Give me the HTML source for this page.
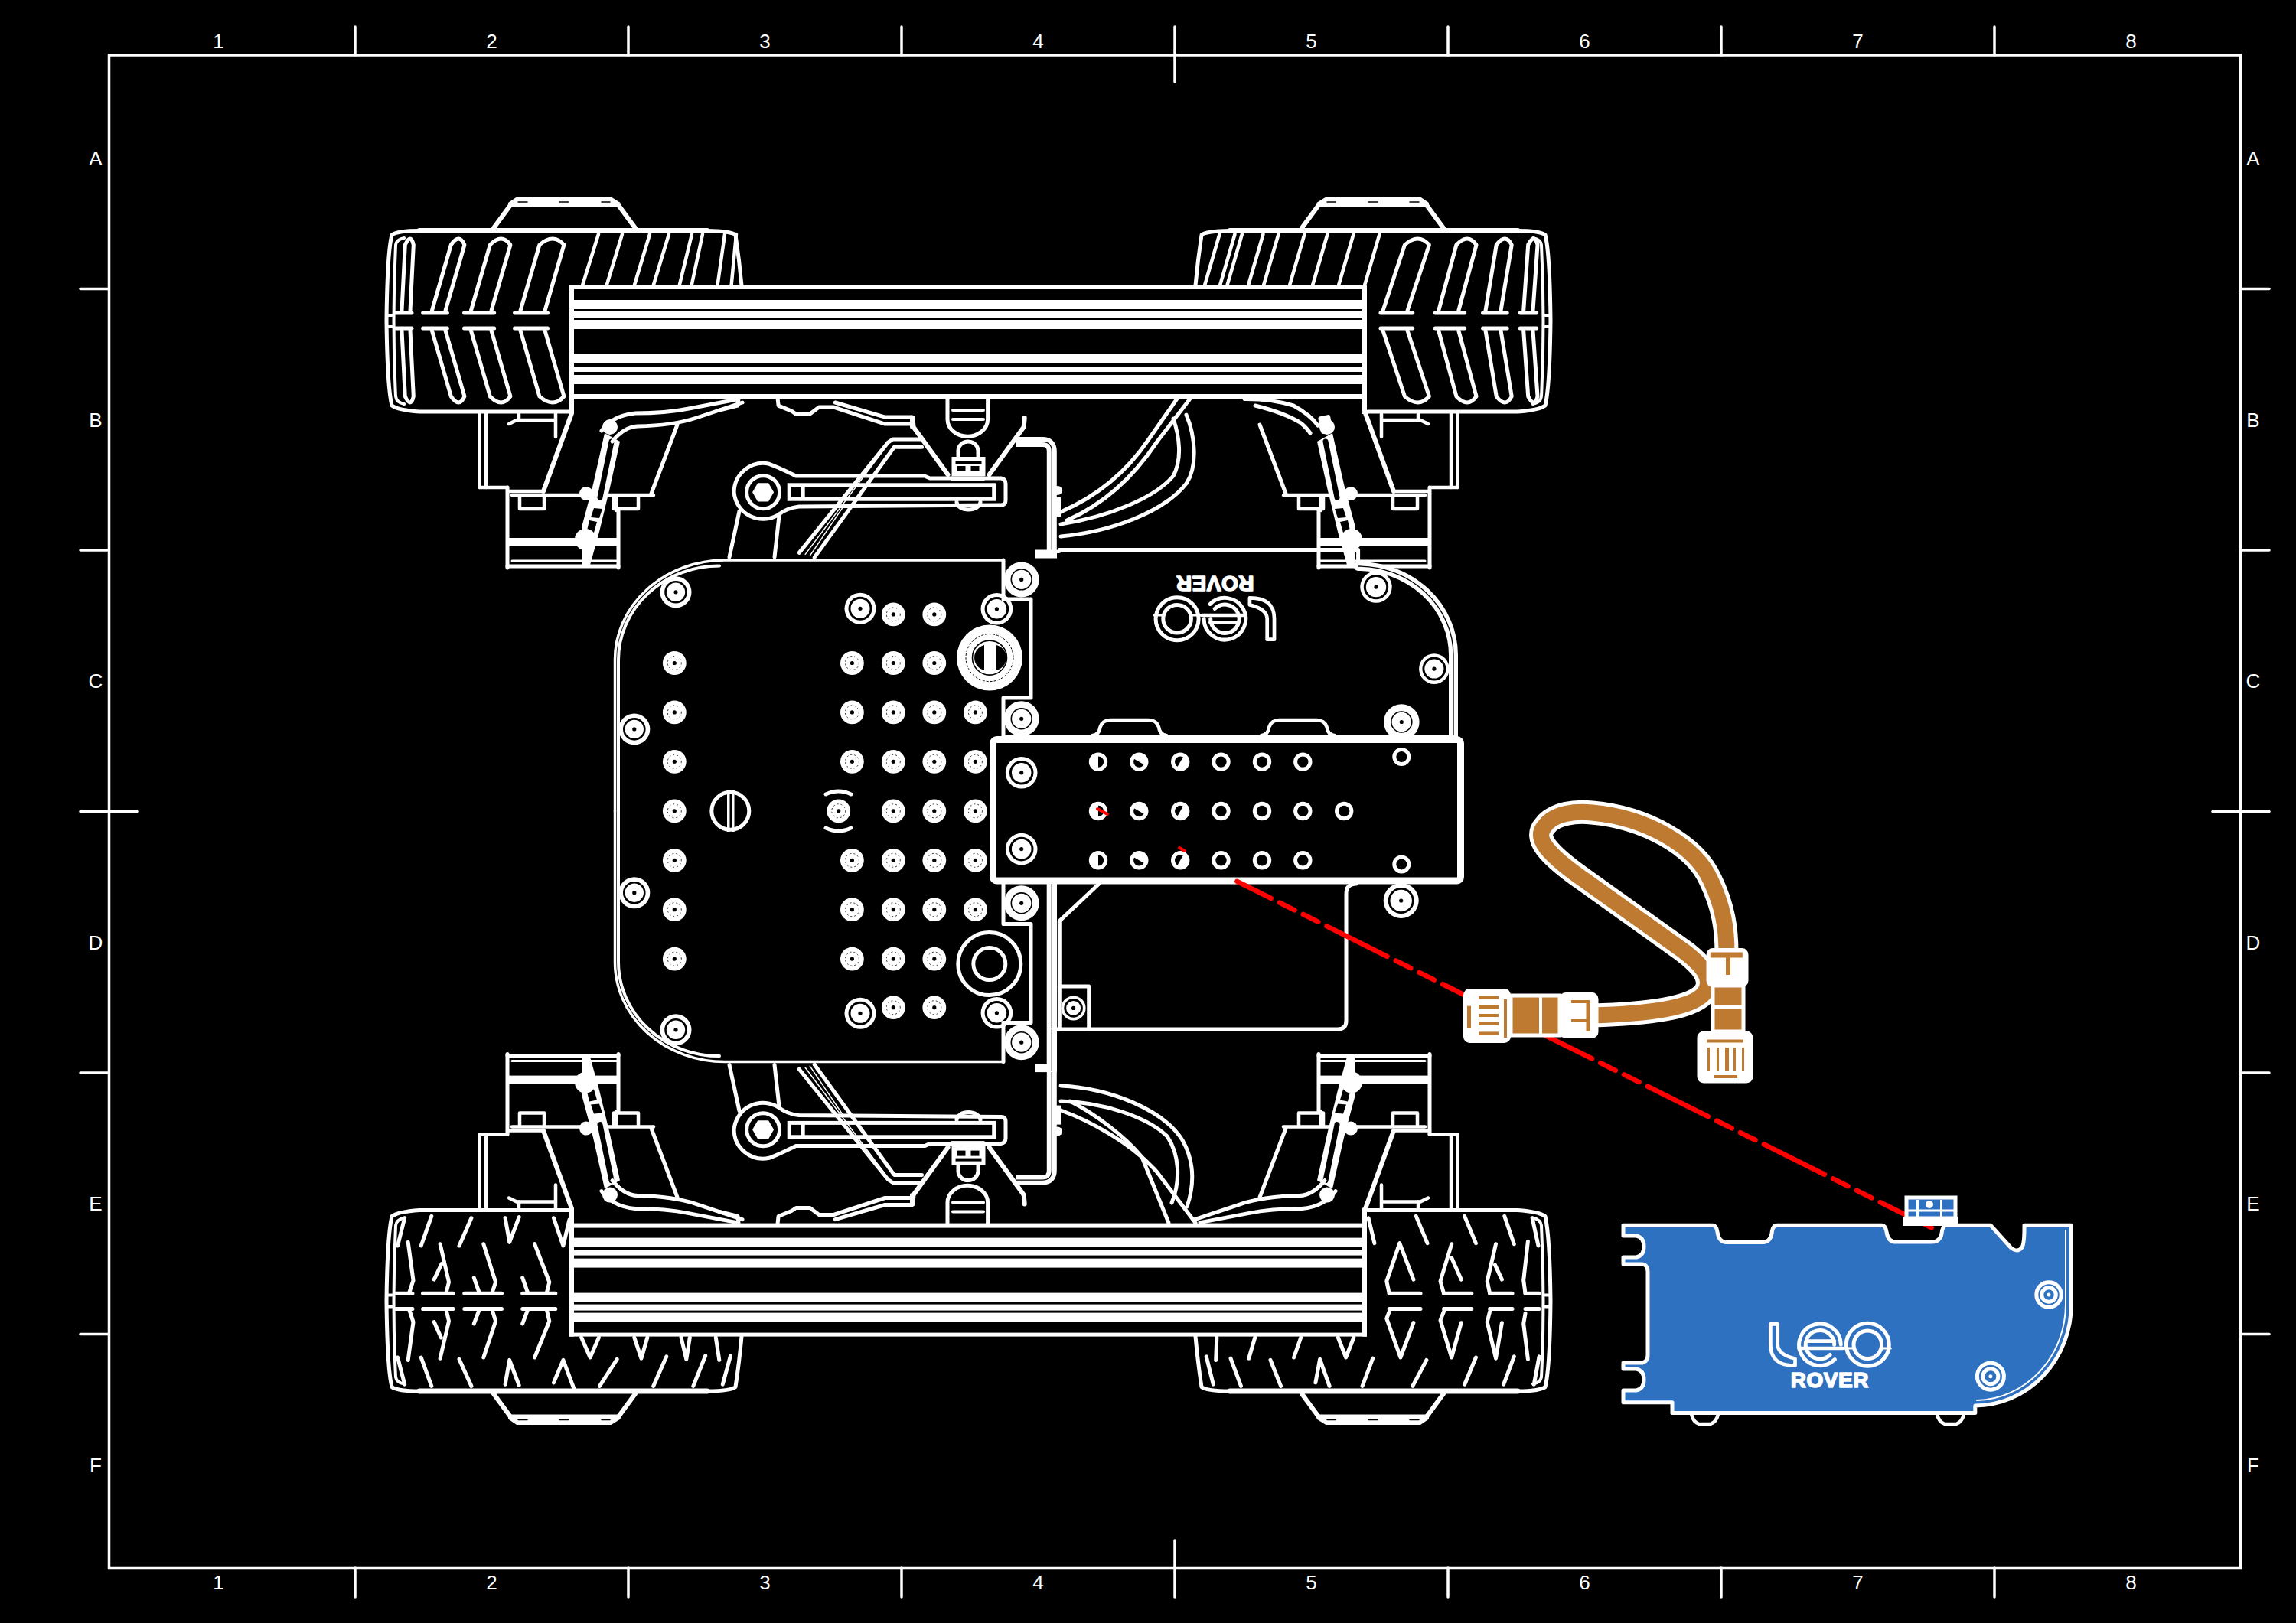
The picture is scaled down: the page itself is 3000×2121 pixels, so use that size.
<!DOCTYPE html>
<html><head><meta charset="utf-8"><style>
html,body{margin:0;padding:0;background:#000;width:3000px;height:2121px;overflow:hidden}
svg{display:block}
</style></head><body>
<svg width="3000" height="2121" viewBox="0 0 3000 2121">
<rect width="3000" height="2121" fill="#000"/>
<rect x="142.5" y="72" width="2785" height="1977.5" stroke="#fff" stroke-width="3.5" fill="none"/>
<line x1="464" y1="35" x2="464" y2="72" stroke="#fff" stroke-width="3.5" fill="none" stroke-linecap="round"/>
<line x1="464" y1="2049" x2="464" y2="2087" stroke="#fff" stroke-width="3.5" fill="none" stroke-linecap="round"/>
<line x1="821" y1="35" x2="821" y2="72" stroke="#fff" stroke-width="3.5" fill="none" stroke-linecap="round"/>
<line x1="821" y1="2049" x2="821" y2="2087" stroke="#fff" stroke-width="3.5" fill="none" stroke-linecap="round"/>
<line x1="1178" y1="35" x2="1178" y2="72" stroke="#fff" stroke-width="3.5" fill="none" stroke-linecap="round"/>
<line x1="1178" y1="2049" x2="1178" y2="2087" stroke="#fff" stroke-width="3.5" fill="none" stroke-linecap="round"/>
<line x1="1535" y1="35" x2="1535" y2="107" stroke="#fff" stroke-width="3.5" fill="none" stroke-linecap="round"/>
<line x1="1535" y1="2013" x2="1535" y2="2087" stroke="#fff" stroke-width="3.5" fill="none" stroke-linecap="round"/>
<line x1="1892" y1="35" x2="1892" y2="72" stroke="#fff" stroke-width="3.5" fill="none" stroke-linecap="round"/>
<line x1="1892" y1="2049" x2="1892" y2="2087" stroke="#fff" stroke-width="3.5" fill="none" stroke-linecap="round"/>
<line x1="2249" y1="35" x2="2249" y2="72" stroke="#fff" stroke-width="3.5" fill="none" stroke-linecap="round"/>
<line x1="2249" y1="2049" x2="2249" y2="2087" stroke="#fff" stroke-width="3.5" fill="none" stroke-linecap="round"/>
<line x1="2606" y1="35" x2="2606" y2="72" stroke="#fff" stroke-width="3.5" fill="none" stroke-linecap="round"/>
<line x1="2606" y1="2049" x2="2606" y2="2087" stroke="#fff" stroke-width="3.5" fill="none" stroke-linecap="round"/>
<line x1="105" y1="377.6" x2="142" y2="377.6" stroke="#fff" stroke-width="3.5" fill="none" stroke-linecap="round"/>
<line x1="2927" y1="377.6" x2="2965" y2="377.6" stroke="#fff" stroke-width="3.5" fill="none" stroke-linecap="round"/>
<line x1="105" y1="719.1" x2="142" y2="719.1" stroke="#fff" stroke-width="3.5" fill="none" stroke-linecap="round"/>
<line x1="2927" y1="719.1" x2="2965" y2="719.1" stroke="#fff" stroke-width="3.5" fill="none" stroke-linecap="round"/>
<line x1="105" y1="1060.6" x2="179" y2="1060.6" stroke="#fff" stroke-width="3.5" fill="none" stroke-linecap="round"/>
<line x1="2891" y1="1060.6" x2="2965" y2="1060.6" stroke="#fff" stroke-width="3.5" fill="none" stroke-linecap="round"/>
<line x1="105" y1="1402.1" x2="142" y2="1402.1" stroke="#fff" stroke-width="3.5" fill="none" stroke-linecap="round"/>
<line x1="2927" y1="1402.1" x2="2965" y2="1402.1" stroke="#fff" stroke-width="3.5" fill="none" stroke-linecap="round"/>
<line x1="105" y1="1743.6" x2="142" y2="1743.6" stroke="#fff" stroke-width="3.5" fill="none" stroke-linecap="round"/>
<line x1="2927" y1="1743.6" x2="2965" y2="1743.6" stroke="#fff" stroke-width="3.5" fill="none" stroke-linecap="round"/>
<text x="285.5" y="63" fill="#fff" font-family="Liberation Sans, sans-serif" font-size="26" text-anchor="middle">1</text>
<text x="285.5" y="2077" fill="#fff" font-family="Liberation Sans, sans-serif" font-size="26" text-anchor="middle">1</text>
<text x="642.5" y="63" fill="#fff" font-family="Liberation Sans, sans-serif" font-size="26" text-anchor="middle">2</text>
<text x="642.5" y="2077" fill="#fff" font-family="Liberation Sans, sans-serif" font-size="26" text-anchor="middle">2</text>
<text x="999.5" y="63" fill="#fff" font-family="Liberation Sans, sans-serif" font-size="26" text-anchor="middle">3</text>
<text x="999.5" y="2077" fill="#fff" font-family="Liberation Sans, sans-serif" font-size="26" text-anchor="middle">3</text>
<text x="1356.5" y="63" fill="#fff" font-family="Liberation Sans, sans-serif" font-size="26" text-anchor="middle">4</text>
<text x="1356.5" y="2077" fill="#fff" font-family="Liberation Sans, sans-serif" font-size="26" text-anchor="middle">4</text>
<text x="1713.5" y="63" fill="#fff" font-family="Liberation Sans, sans-serif" font-size="26" text-anchor="middle">5</text>
<text x="1713.5" y="2077" fill="#fff" font-family="Liberation Sans, sans-serif" font-size="26" text-anchor="middle">5</text>
<text x="2070.5" y="63" fill="#fff" font-family="Liberation Sans, sans-serif" font-size="26" text-anchor="middle">6</text>
<text x="2070.5" y="2077" fill="#fff" font-family="Liberation Sans, sans-serif" font-size="26" text-anchor="middle">6</text>
<text x="2427.5" y="63" fill="#fff" font-family="Liberation Sans, sans-serif" font-size="26" text-anchor="middle">7</text>
<text x="2427.5" y="2077" fill="#fff" font-family="Liberation Sans, sans-serif" font-size="26" text-anchor="middle">7</text>
<text x="2784.5" y="63" fill="#fff" font-family="Liberation Sans, sans-serif" font-size="26" text-anchor="middle">8</text>
<text x="2784.5" y="2077" fill="#fff" font-family="Liberation Sans, sans-serif" font-size="26" text-anchor="middle">8</text>
<text x="125" y="216.20000000000002" fill="#fff" font-family="Liberation Sans, sans-serif" font-size="26" text-anchor="middle">A</text>
<text x="2944" y="216.20000000000002" fill="#fff" font-family="Liberation Sans, sans-serif" font-size="26" text-anchor="middle">A</text>
<text x="125" y="557.6999999999999" fill="#fff" font-family="Liberation Sans, sans-serif" font-size="26" text-anchor="middle">B</text>
<text x="2944" y="557.6999999999999" fill="#fff" font-family="Liberation Sans, sans-serif" font-size="26" text-anchor="middle">B</text>
<text x="125" y="899.1999999999999" fill="#fff" font-family="Liberation Sans, sans-serif" font-size="26" text-anchor="middle">C</text>
<text x="2944" y="899.1999999999999" fill="#fff" font-family="Liberation Sans, sans-serif" font-size="26" text-anchor="middle">C</text>
<text x="125" y="1240.7" fill="#fff" font-family="Liberation Sans, sans-serif" font-size="26" text-anchor="middle">D</text>
<text x="2944" y="1240.7" fill="#fff" font-family="Liberation Sans, sans-serif" font-size="26" text-anchor="middle">D</text>
<text x="125" y="1582.2" fill="#fff" font-family="Liberation Sans, sans-serif" font-size="26" text-anchor="middle">E</text>
<text x="2944" y="1582.2" fill="#fff" font-family="Liberation Sans, sans-serif" font-size="26" text-anchor="middle">E</text>
<text x="125" y="1923.7" fill="#fff" font-family="Liberation Sans, sans-serif" font-size="26" text-anchor="middle">F</text>
<text x="2944" y="1923.7" fill="#fff" font-family="Liberation Sans, sans-serif" font-size="26" text-anchor="middle">F</text>
<polygon points="675,257.5 798.6,257.5 810.6,265 810.6,271 664,271 664,265" fill="#fff"/><line x1="677.0" y1="264.0" x2="689.0" y2="264.0" stroke="#000" stroke-width="1.5" stroke-linecap="round"/><line x1="731.0" y1="264.0" x2="743.0" y2="264.0" stroke="#000" stroke-width="1.5" stroke-linecap="round"/><line x1="786.0" y1="264.0" x2="797.0" y2="264.0" stroke="#000" stroke-width="1.5" stroke-linecap="round"/><line x1="667.0" y1="268.0" x2="645.0" y2="298.0" stroke="#fff" stroke-width="6" stroke-linecap="round"/><line x1="808.0" y1="268.0" x2="830.0" y2="298.0" stroke="#fff" stroke-width="6" stroke-linecap="round"/><path d="M744,538 L548,538 Q520,536 512,530 Q506,505 505,419 Q506,330 512,307 Q520,301.5 548,301.5 L924,301.5 Q955,302 961,307 Q966,340 969,373" stroke="#fff" stroke-width="5" fill="none" stroke-linejoin="round" stroke-linecap="round" /><line x1="548.0" y1="301.5" x2="924.0" y2="301.5" stroke="#fff" stroke-width="7" stroke-linecap="round"/><path d="M528,311 Q518,313 517,320 Q512,419 517,518 Q518,526 528,528" stroke="#fff" stroke-width="4" fill="none" stroke-linejoin="round" stroke-linecap="round" /><line x1="505.0" y1="412.0" x2="512.0" y2="412.0" stroke="#fff" stroke-width="4" stroke-linecap="round"/><line x1="505.0" y1="427.0" x2="512.0" y2="427.0" stroke="#fff" stroke-width="4" stroke-linecap="round"/><line x1="626.5" y1="540.0" x2="626.5" y2="637.0" stroke="#fff" stroke-width="4.5" stroke-linecap="round"/><line x1="635.0" y1="540.0" x2="635.0" y2="637.0" stroke="#fff" stroke-width="4.5" stroke-linecap="round"/><line x1="626.5" y1="637.0" x2="663.0" y2="637.0" stroke="#fff" stroke-width="4.5" stroke-linecap="round"/><line x1="663.0" y1="637.0" x2="663.0" y2="742.0" stroke="#fff" stroke-width="5" stroke-linecap="round"/><line x1="808.0" y1="667.0" x2="808.0" y2="742.0" stroke="#fff" stroke-width="5" stroke-linecap="round"/><line x1="663.0" y1="740.0" x2="808.0" y2="740.0" stroke="#fff" stroke-width="5" stroke-linecap="round"/><rect x="663.0" y="703.0" width="145.0" height="11.0" fill="#fff"/><line x1="669.0" y1="733.0" x2="808.0" y2="733.0" stroke="#fff" stroke-width="3" stroke-linecap="round"/><line x1="663.0" y1="642.0" x2="710.0" y2="642.0" stroke="#fff" stroke-width="4.5" stroke-linecap="round"/><line x1="669.0" y1="647.0" x2="854.0" y2="647.0" stroke="#fff" stroke-width="4.5" stroke-linecap="round"/><path d="M679.0,649.0 L679.0,665.0 L711.0,665.0 L711.0,649.0" stroke="#fff" stroke-width="4.5" fill="none" stroke-linejoin="round" stroke-linecap="round" /><path d="M802.0,649.0 L802.0,665.0 L834.0,665.0 L834.0,649.0" stroke="#fff" stroke-width="4.5" fill="none" stroke-linejoin="round" stroke-linecap="round" /><line x1="805.0" y1="649.0" x2="805.0" y2="667.0" stroke="#fff" stroke-width="4.5" stroke-linecap="round"/><line x1="747.0" y1="540.0" x2="710.0" y2="642.0" stroke="#fff" stroke-width="6" stroke-linecap="round"/><line x1="885.0" y1="555.0" x2="851.0" y2="645.0" stroke="#fff" stroke-width="5" stroke-linecap="round"/><path d="M665.0,554.0 L675.0,549.0 L725.0,549.0" stroke="#fff" stroke-width="4.5" fill="none" stroke-linejoin="round" stroke-linecap="round" /><line x1="678.0" y1="541.0" x2="678.0" y2="549.0" stroke="#fff" stroke-width="4.5" stroke-linecap="round"/><line x1="726.0" y1="541.0" x2="726.0" y2="571.0" stroke="#fff" stroke-width="4.5" stroke-linecap="round"/><polygon points="790,566 810,577 797,637 783,695 770,742 760,742 760,689 775,633" fill="#fff"/><line x1="799.0" y1="577.0" x2="784.0" y2="650.0" stroke="#000" stroke-width="7" stroke-linecap="round"/><polygon points="776,664 787,665 783,677 772,676" fill="#000"/><polygon points="770,680 780,682 774,703 765,702" fill="#000"/><circle cx="766.0" cy="645.0" r="9.0" fill="#fff"/><circle cx="765.0" cy="705.0" r="14.0" fill="#fff"/><circle cx="797.0" cy="558.0" r="10.0" fill="#fff"/>
<g transform="translate(2531,0) scale(-1,1)"><polygon points="675,257.5 798.6,257.5 810.6,265 810.6,271 664,271 664,265" fill="#fff"/><line x1="677.0" y1="264.0" x2="689.0" y2="264.0" stroke="#000" stroke-width="1.5" stroke-linecap="round"/><line x1="731.0" y1="264.0" x2="743.0" y2="264.0" stroke="#000" stroke-width="1.5" stroke-linecap="round"/><line x1="786.0" y1="264.0" x2="797.0" y2="264.0" stroke="#000" stroke-width="1.5" stroke-linecap="round"/><line x1="667.0" y1="268.0" x2="645.0" y2="298.0" stroke="#fff" stroke-width="6" stroke-linecap="round"/><line x1="808.0" y1="268.0" x2="830.0" y2="298.0" stroke="#fff" stroke-width="6" stroke-linecap="round"/><path d="M744,538 L548,538 Q520,536 512,530 Q506,505 505,419 Q506,330 512,307 Q520,301.5 548,301.5 L924,301.5 Q955,302 961,307 Q966,340 969,373" stroke="#fff" stroke-width="5" fill="none" stroke-linejoin="round" stroke-linecap="round" /><line x1="548.0" y1="301.5" x2="924.0" y2="301.5" stroke="#fff" stroke-width="7" stroke-linecap="round"/><path d="M528,311 Q518,313 517,320 Q512,419 517,518 Q518,526 528,528" stroke="#fff" stroke-width="4" fill="none" stroke-linejoin="round" stroke-linecap="round" /><line x1="505.0" y1="412.0" x2="512.0" y2="412.0" stroke="#fff" stroke-width="4" stroke-linecap="round"/><line x1="505.0" y1="427.0" x2="512.0" y2="427.0" stroke="#fff" stroke-width="4" stroke-linecap="round"/><line x1="626.5" y1="540.0" x2="626.5" y2="637.0" stroke="#fff" stroke-width="4.5" stroke-linecap="round"/><line x1="635.0" y1="540.0" x2="635.0" y2="637.0" stroke="#fff" stroke-width="4.5" stroke-linecap="round"/><line x1="626.5" y1="637.0" x2="663.0" y2="637.0" stroke="#fff" stroke-width="4.5" stroke-linecap="round"/><line x1="663.0" y1="637.0" x2="663.0" y2="742.0" stroke="#fff" stroke-width="5" stroke-linecap="round"/><line x1="808.0" y1="667.0" x2="808.0" y2="742.0" stroke="#fff" stroke-width="5" stroke-linecap="round"/><line x1="663.0" y1="740.0" x2="808.0" y2="740.0" stroke="#fff" stroke-width="5" stroke-linecap="round"/><rect x="663.0" y="703.0" width="145.0" height="11.0" fill="#fff"/><line x1="669.0" y1="733.0" x2="808.0" y2="733.0" stroke="#fff" stroke-width="3" stroke-linecap="round"/><line x1="663.0" y1="642.0" x2="710.0" y2="642.0" stroke="#fff" stroke-width="4.5" stroke-linecap="round"/><line x1="669.0" y1="647.0" x2="854.0" y2="647.0" stroke="#fff" stroke-width="4.5" stroke-linecap="round"/><path d="M679.0,649.0 L679.0,665.0 L711.0,665.0 L711.0,649.0" stroke="#fff" stroke-width="4.5" fill="none" stroke-linejoin="round" stroke-linecap="round" /><path d="M802.0,649.0 L802.0,665.0 L834.0,665.0 L834.0,649.0" stroke="#fff" stroke-width="4.5" fill="none" stroke-linejoin="round" stroke-linecap="round" /><line x1="805.0" y1="649.0" x2="805.0" y2="667.0" stroke="#fff" stroke-width="4.5" stroke-linecap="round"/><line x1="747.0" y1="540.0" x2="710.0" y2="642.0" stroke="#fff" stroke-width="6" stroke-linecap="round"/><line x1="885.0" y1="555.0" x2="851.0" y2="645.0" stroke="#fff" stroke-width="5" stroke-linecap="round"/><path d="M665.0,554.0 L675.0,549.0 L725.0,549.0" stroke="#fff" stroke-width="4.5" fill="none" stroke-linejoin="round" stroke-linecap="round" /><line x1="678.0" y1="541.0" x2="678.0" y2="549.0" stroke="#fff" stroke-width="4.5" stroke-linecap="round"/><line x1="726.0" y1="541.0" x2="726.0" y2="571.0" stroke="#fff" stroke-width="4.5" stroke-linecap="round"/><polygon points="790,566 810,577 797,637 783,695 770,742 760,742 760,689 775,633" fill="#fff"/><line x1="799.0" y1="577.0" x2="784.0" y2="650.0" stroke="#000" stroke-width="7" stroke-linecap="round"/><polygon points="776,664 787,665 783,677 772,676" fill="#000"/><polygon points="770,680 780,682 774,703 765,702" fill="#000"/><circle cx="766.0" cy="645.0" r="9.0" fill="#fff"/><circle cx="765.0" cy="705.0" r="14.0" fill="#fff"/><circle cx="797.0" cy="558.0" r="10.0" fill="#fff"/></g>
<g transform="translate(0,2119.6) scale(1,-1)"><polygon points="675,257.5 798.6,257.5 810.6,265 810.6,271 664,271 664,265" fill="#fff"/><line x1="677.0" y1="264.0" x2="689.0" y2="264.0" stroke="#000" stroke-width="1.5" stroke-linecap="round"/><line x1="731.0" y1="264.0" x2="743.0" y2="264.0" stroke="#000" stroke-width="1.5" stroke-linecap="round"/><line x1="786.0" y1="264.0" x2="797.0" y2="264.0" stroke="#000" stroke-width="1.5" stroke-linecap="round"/><line x1="667.0" y1="268.0" x2="645.0" y2="298.0" stroke="#fff" stroke-width="6" stroke-linecap="round"/><line x1="808.0" y1="268.0" x2="830.0" y2="298.0" stroke="#fff" stroke-width="6" stroke-linecap="round"/><path d="M744,538 L548,538 Q520,536 512,530 Q506,505 505,419 Q506,330 512,307 Q520,301.5 548,301.5 L924,301.5 Q955,302 961,307 Q966,340 969,373" stroke="#fff" stroke-width="5" fill="none" stroke-linejoin="round" stroke-linecap="round" /><line x1="548.0" y1="301.5" x2="924.0" y2="301.5" stroke="#fff" stroke-width="7" stroke-linecap="round"/><path d="M528,311 Q518,313 517,320 Q512,419 517,518 Q518,526 528,528" stroke="#fff" stroke-width="4" fill="none" stroke-linejoin="round" stroke-linecap="round" /><line x1="505.0" y1="412.0" x2="512.0" y2="412.0" stroke="#fff" stroke-width="4" stroke-linecap="round"/><line x1="505.0" y1="427.0" x2="512.0" y2="427.0" stroke="#fff" stroke-width="4" stroke-linecap="round"/><line x1="626.5" y1="540.0" x2="626.5" y2="637.0" stroke="#fff" stroke-width="4.5" stroke-linecap="round"/><line x1="635.0" y1="540.0" x2="635.0" y2="637.0" stroke="#fff" stroke-width="4.5" stroke-linecap="round"/><line x1="626.5" y1="637.0" x2="663.0" y2="637.0" stroke="#fff" stroke-width="4.5" stroke-linecap="round"/><line x1="663.0" y1="637.0" x2="663.0" y2="742.0" stroke="#fff" stroke-width="5" stroke-linecap="round"/><line x1="808.0" y1="667.0" x2="808.0" y2="742.0" stroke="#fff" stroke-width="5" stroke-linecap="round"/><line x1="663.0" y1="740.0" x2="808.0" y2="740.0" stroke="#fff" stroke-width="5" stroke-linecap="round"/><rect x="663.0" y="703.0" width="145.0" height="11.0" fill="#fff"/><line x1="669.0" y1="733.0" x2="808.0" y2="733.0" stroke="#fff" stroke-width="3" stroke-linecap="round"/><line x1="663.0" y1="642.0" x2="710.0" y2="642.0" stroke="#fff" stroke-width="4.5" stroke-linecap="round"/><line x1="669.0" y1="647.0" x2="854.0" y2="647.0" stroke="#fff" stroke-width="4.5" stroke-linecap="round"/><path d="M679.0,649.0 L679.0,665.0 L711.0,665.0 L711.0,649.0" stroke="#fff" stroke-width="4.5" fill="none" stroke-linejoin="round" stroke-linecap="round" /><path d="M802.0,649.0 L802.0,665.0 L834.0,665.0 L834.0,649.0" stroke="#fff" stroke-width="4.5" fill="none" stroke-linejoin="round" stroke-linecap="round" /><line x1="805.0" y1="649.0" x2="805.0" y2="667.0" stroke="#fff" stroke-width="4.5" stroke-linecap="round"/><line x1="747.0" y1="540.0" x2="710.0" y2="642.0" stroke="#fff" stroke-width="6" stroke-linecap="round"/><line x1="885.0" y1="555.0" x2="851.0" y2="645.0" stroke="#fff" stroke-width="5" stroke-linecap="round"/><path d="M665.0,554.0 L675.0,549.0 L725.0,549.0" stroke="#fff" stroke-width="4.5" fill="none" stroke-linejoin="round" stroke-linecap="round" /><line x1="678.0" y1="541.0" x2="678.0" y2="549.0" stroke="#fff" stroke-width="4.5" stroke-linecap="round"/><line x1="726.0" y1="541.0" x2="726.0" y2="571.0" stroke="#fff" stroke-width="4.5" stroke-linecap="round"/><polygon points="790,566 810,577 797,637 783,695 770,742 760,742 760,689 775,633" fill="#fff"/><line x1="799.0" y1="577.0" x2="784.0" y2="650.0" stroke="#000" stroke-width="7" stroke-linecap="round"/><polygon points="776,664 787,665 783,677 772,676" fill="#000"/><polygon points="770,680 780,682 774,703 765,702" fill="#000"/><circle cx="766.0" cy="645.0" r="9.0" fill="#fff"/><circle cx="765.0" cy="705.0" r="14.0" fill="#fff"/><circle cx="797.0" cy="558.0" r="10.0" fill="#fff"/></g>
<g transform="translate(2531,2119.6) scale(-1,-1)"><polygon points="675,257.5 798.6,257.5 810.6,265 810.6,271 664,271 664,265" fill="#fff"/><line x1="677.0" y1="264.0" x2="689.0" y2="264.0" stroke="#000" stroke-width="1.5" stroke-linecap="round"/><line x1="731.0" y1="264.0" x2="743.0" y2="264.0" stroke="#000" stroke-width="1.5" stroke-linecap="round"/><line x1="786.0" y1="264.0" x2="797.0" y2="264.0" stroke="#000" stroke-width="1.5" stroke-linecap="round"/><line x1="667.0" y1="268.0" x2="645.0" y2="298.0" stroke="#fff" stroke-width="6" stroke-linecap="round"/><line x1="808.0" y1="268.0" x2="830.0" y2="298.0" stroke="#fff" stroke-width="6" stroke-linecap="round"/><path d="M744,538 L548,538 Q520,536 512,530 Q506,505 505,419 Q506,330 512,307 Q520,301.5 548,301.5 L924,301.5 Q955,302 961,307 Q966,340 969,373" stroke="#fff" stroke-width="5" fill="none" stroke-linejoin="round" stroke-linecap="round" /><line x1="548.0" y1="301.5" x2="924.0" y2="301.5" stroke="#fff" stroke-width="7" stroke-linecap="round"/><path d="M528,311 Q518,313 517,320 Q512,419 517,518 Q518,526 528,528" stroke="#fff" stroke-width="4" fill="none" stroke-linejoin="round" stroke-linecap="round" /><line x1="505.0" y1="412.0" x2="512.0" y2="412.0" stroke="#fff" stroke-width="4" stroke-linecap="round"/><line x1="505.0" y1="427.0" x2="512.0" y2="427.0" stroke="#fff" stroke-width="4" stroke-linecap="round"/><line x1="626.5" y1="540.0" x2="626.5" y2="637.0" stroke="#fff" stroke-width="4.5" stroke-linecap="round"/><line x1="635.0" y1="540.0" x2="635.0" y2="637.0" stroke="#fff" stroke-width="4.5" stroke-linecap="round"/><line x1="626.5" y1="637.0" x2="663.0" y2="637.0" stroke="#fff" stroke-width="4.5" stroke-linecap="round"/><line x1="663.0" y1="637.0" x2="663.0" y2="742.0" stroke="#fff" stroke-width="5" stroke-linecap="round"/><line x1="808.0" y1="667.0" x2="808.0" y2="742.0" stroke="#fff" stroke-width="5" stroke-linecap="round"/><line x1="663.0" y1="740.0" x2="808.0" y2="740.0" stroke="#fff" stroke-width="5" stroke-linecap="round"/><rect x="663.0" y="703.0" width="145.0" height="11.0" fill="#fff"/><line x1="669.0" y1="733.0" x2="808.0" y2="733.0" stroke="#fff" stroke-width="3" stroke-linecap="round"/><line x1="663.0" y1="642.0" x2="710.0" y2="642.0" stroke="#fff" stroke-width="4.5" stroke-linecap="round"/><line x1="669.0" y1="647.0" x2="854.0" y2="647.0" stroke="#fff" stroke-width="4.5" stroke-linecap="round"/><path d="M679.0,649.0 L679.0,665.0 L711.0,665.0 L711.0,649.0" stroke="#fff" stroke-width="4.5" fill="none" stroke-linejoin="round" stroke-linecap="round" /><path d="M802.0,649.0 L802.0,665.0 L834.0,665.0 L834.0,649.0" stroke="#fff" stroke-width="4.5" fill="none" stroke-linejoin="round" stroke-linecap="round" /><line x1="805.0" y1="649.0" x2="805.0" y2="667.0" stroke="#fff" stroke-width="4.5" stroke-linecap="round"/><line x1="747.0" y1="540.0" x2="710.0" y2="642.0" stroke="#fff" stroke-width="6" stroke-linecap="round"/><line x1="885.0" y1="555.0" x2="851.0" y2="645.0" stroke="#fff" stroke-width="5" stroke-linecap="round"/><path d="M665.0,554.0 L675.0,549.0 L725.0,549.0" stroke="#fff" stroke-width="4.5" fill="none" stroke-linejoin="round" stroke-linecap="round" /><line x1="678.0" y1="541.0" x2="678.0" y2="549.0" stroke="#fff" stroke-width="4.5" stroke-linecap="round"/><line x1="726.0" y1="541.0" x2="726.0" y2="571.0" stroke="#fff" stroke-width="4.5" stroke-linecap="round"/><polygon points="790,566 810,577 797,637 783,695 770,742 760,742 760,689 775,633" fill="#fff"/><line x1="799.0" y1="577.0" x2="784.0" y2="650.0" stroke="#000" stroke-width="7" stroke-linecap="round"/><polygon points="776,664 787,665 783,677 772,676" fill="#000"/><polygon points="770,680 780,682 774,703 765,702" fill="#000"/><circle cx="766.0" cy="645.0" r="9.0" fill="#fff"/><circle cx="765.0" cy="705.0" r="14.0" fill="#fff"/><circle cx="797.0" cy="558.0" r="10.0" fill="#fff"/></g>
<path d="M786,563 Q800,543 830,540 Q870,540 900,534 L963,522" stroke="#fff" stroke-width="5" fill="none" stroke-linejoin="round" stroke-linecap="round" /><path d="M800,577 Q815,558 833,557 Q880,556 910,546 L970,526" stroke="#fff" stroke-width="5" fill="none" stroke-linejoin="round" stroke-linecap="round" />
<g transform="translate(0,2119.6) scale(1,-1)"><path d="M786,563 Q800,543 830,540 Q870,540 900,534 L963,522" stroke="#fff" stroke-width="5" fill="none" stroke-linejoin="round" stroke-linecap="round" /><path d="M800,577 Q815,558 833,557 Q880,556 910,546 L970,526" stroke="#fff" stroke-width="5" fill="none" stroke-linejoin="round" stroke-linecap="round" /></g>
<g transform="translate(2531,2119.6) scale(-1,-1)"><path d="M786,563 Q800,543 830,540 Q870,540 900,534 L963,522" stroke="#fff" stroke-width="5" fill="none" stroke-linejoin="round" stroke-linecap="round" /><path d="M800,577 Q815,558 833,557 Q880,556 910,546 L970,526" stroke="#fff" stroke-width="5" fill="none" stroke-linejoin="round" stroke-linecap="round" /></g>
<path d="M1626,521.5 Q1660,521 1690,530 Q1712,542 1722,556" stroke="#fff" stroke-width="5" fill="none" stroke-linejoin="round" stroke-linecap="round" /><path d="M1640,530 Q1680,540 1700,553 Q1708,560 1712,566" stroke="#fff" stroke-width="5" fill="none" stroke-linejoin="round" stroke-linecap="round" /><rect x="1724" y="543" width="16" height="23" rx="3" fill="#fff" transform="rotate(-12 1732 554)"/>
<line x1="517.0" y1="409.0" x2="538.0" y2="409.0" stroke="#fff" stroke-width="5" stroke-linecap="round"/><path d="M525.0,406.0 L529.3,320.0 Q536.8,304.0 540.3,320.0 L536.0,406.0" stroke="#fff" stroke-width="5" fill="none" stroke-linejoin="round" stroke-linecap="round" /><line x1="552.6" y1="409.0" x2="584.4" y2="409.0" stroke="#fff" stroke-width="5" stroke-linecap="round"/><path d="M564.4,406.0 L589.3,320.0 Q600.1,304.0 606.9,320.0 L582.0,406.0" stroke="#fff" stroke-width="5" fill="none" stroke-linejoin="round" stroke-linecap="round" /><line x1="606.5" y1="409.0" x2="645.7" y2="409.0" stroke="#fff" stroke-width="5" stroke-linecap="round"/><path d="M615.4,406.0 L640.3,320.0 Q655.6,304.0 666.9,320.0 L642.0,406.0" stroke="#fff" stroke-width="5" fill="none" stroke-linejoin="round" stroke-linecap="round" /><line x1="672.5" y1="409.0" x2="715.5" y2="409.0" stroke="#fff" stroke-width="5" stroke-linecap="round"/><path d="M680.0,406.0 L704.9,320.0 Q722.9,304.0 736.9,320.0 L712.0,406.0" stroke="#fff" stroke-width="5" fill="none" stroke-linejoin="round" stroke-linecap="round" /><g transform="translate(0,838) scale(1,-1)"><line x1="517.0" y1="409.0" x2="538.0" y2="409.0" stroke="#fff" stroke-width="5" stroke-linecap="round"/><path d="M525.0,406.0 L529.3,320.0 Q536.8,304.0 540.3,320.0 L536.0,406.0" stroke="#fff" stroke-width="5" fill="none" stroke-linejoin="round" stroke-linecap="round" /><line x1="552.6" y1="409.0" x2="584.4" y2="409.0" stroke="#fff" stroke-width="5" stroke-linecap="round"/><path d="M564.4,406.0 L589.3,320.0 Q600.1,304.0 606.9,320.0 L582.0,406.0" stroke="#fff" stroke-width="5" fill="none" stroke-linejoin="round" stroke-linecap="round" /><line x1="606.5" y1="409.0" x2="645.7" y2="409.0" stroke="#fff" stroke-width="5" stroke-linecap="round"/><path d="M615.4,406.0 L640.3,320.0 Q655.6,304.0 666.9,320.0 L642.0,406.0" stroke="#fff" stroke-width="5" fill="none" stroke-linejoin="round" stroke-linecap="round" /><line x1="672.5" y1="409.0" x2="715.5" y2="409.0" stroke="#fff" stroke-width="5" stroke-linecap="round"/><path d="M680.0,406.0 L704.9,320.0 Q722.9,304.0 736.9,320.0 L712.0,406.0" stroke="#fff" stroke-width="5" fill="none" stroke-linejoin="round" stroke-linecap="round" /></g><line x1="761.0" y1="373.0" x2="782.0" y2="306.0" stroke="#fff" stroke-width="4.5" stroke-linecap="round"/><line x1="792.6" y1="373.0" x2="813.0" y2="306.0" stroke="#fff" stroke-width="4.5" stroke-linecap="round"/><line x1="828.8" y1="373.0" x2="849.0" y2="306.0" stroke="#fff" stroke-width="4.5" stroke-linecap="round"/><line x1="853.7" y1="373.0" x2="874.0" y2="306.0" stroke="#fff" stroke-width="4.5" stroke-linecap="round"/><line x1="887.7" y1="373.0" x2="904.0" y2="306.0" stroke="#fff" stroke-width="4.5" stroke-linecap="round"/><line x1="903.6" y1="373.0" x2="918.0" y2="306.0" stroke="#fff" stroke-width="4.5" stroke-linecap="round"/><line x1="937.5" y1="373.0" x2="947.0" y2="306.0" stroke="#fff" stroke-width="4.5" stroke-linecap="round"/><line x1="955.6" y1="373.0" x2="962.0" y2="306.0" stroke="#fff" stroke-width="4.5" stroke-linecap="round"/>
<line x1="1803.9" y1="409.0" x2="1845.8" y2="409.0" stroke="#fff" stroke-width="5" stroke-linecap="round"/><path d="M1807.0,406.0 L1835.4,320.0 Q1853.4,304.0 1867.4,320.0 L1839.0,406.0" stroke="#fff" stroke-width="5" fill="none" stroke-linejoin="round" stroke-linecap="round" /><line x1="1875.2" y1="409.0" x2="1913.7" y2="409.0" stroke="#fff" stroke-width="5" stroke-linecap="round"/><path d="M1879.7,406.0 L1902.9,320.0 Q1918.0,304.0 1929.0,320.0 L1905.8,406.0" stroke="#fff" stroke-width="5" fill="none" stroke-linejoin="round" stroke-linecap="round" /><line x1="1937.5" y1="409.0" x2="1969.2" y2="409.0" stroke="#fff" stroke-width="5" stroke-linecap="round"/><path d="M1941.0,406.0 L1955.2,320.0 Q1967.2,304.0 1975.2,320.0 L1961.0,406.0" stroke="#fff" stroke-width="5" fill="none" stroke-linejoin="round" stroke-linecap="round" /><line x1="1986.2" y1="409.0" x2="2007.7" y2="409.0" stroke="#fff" stroke-width="5" stroke-linecap="round"/><path d="M1990.7,406.0 L1996.7,320.0 Q2004.9,304.0 2009.0,320.0 L2003.0,406.0" stroke="#fff" stroke-width="5" fill="none" stroke-linejoin="round" stroke-linecap="round" /><g transform="translate(0,838) scale(1,-1)"><line x1="1803.9" y1="409.0" x2="1845.8" y2="409.0" stroke="#fff" stroke-width="5" stroke-linecap="round"/><path d="M1807.0,406.0 L1835.4,320.0 Q1853.4,304.0 1867.4,320.0 L1839.0,406.0" stroke="#fff" stroke-width="5" fill="none" stroke-linejoin="round" stroke-linecap="round" /><line x1="1875.2" y1="409.0" x2="1913.7" y2="409.0" stroke="#fff" stroke-width="5" stroke-linecap="round"/><path d="M1879.7,406.0 L1902.9,320.0 Q1918.0,304.0 1929.0,320.0 L1905.8,406.0" stroke="#fff" stroke-width="5" fill="none" stroke-linejoin="round" stroke-linecap="round" /><line x1="1937.5" y1="409.0" x2="1969.2" y2="409.0" stroke="#fff" stroke-width="5" stroke-linecap="round"/><path d="M1941.0,406.0 L1955.2,320.0 Q1967.2,304.0 1975.2,320.0 L1961.0,406.0" stroke="#fff" stroke-width="5" fill="none" stroke-linejoin="round" stroke-linecap="round" /><line x1="1986.2" y1="409.0" x2="2007.7" y2="409.0" stroke="#fff" stroke-width="5" stroke-linecap="round"/><path d="M1990.7,406.0 L1996.7,320.0 Q2004.9,304.0 2009.0,320.0 L2003.0,406.0" stroke="#fff" stroke-width="5" fill="none" stroke-linejoin="round" stroke-linecap="round" /></g><line x1="1574.0" y1="373.0" x2="1593.5" y2="306.0" stroke="#fff" stroke-width="4.5" stroke-linecap="round"/><line x1="1594.0" y1="373.0" x2="1613.5" y2="306.0" stroke="#fff" stroke-width="4.5" stroke-linecap="round"/><line x1="1603.4" y1="373.0" x2="1622.9" y2="306.0" stroke="#fff" stroke-width="4.5" stroke-linecap="round"/><line x1="1631.0" y1="373.0" x2="1650.5" y2="306.0" stroke="#fff" stroke-width="4.5" stroke-linecap="round"/><line x1="1651.0" y1="373.0" x2="1670.5" y2="306.0" stroke="#fff" stroke-width="4.5" stroke-linecap="round"/><line x1="1685.0" y1="373.0" x2="1704.5" y2="306.0" stroke="#fff" stroke-width="4.5" stroke-linecap="round"/><line x1="1715.0" y1="373.0" x2="1734.5" y2="306.0" stroke="#fff" stroke-width="4.5" stroke-linecap="round"/><line x1="1749.0" y1="373.0" x2="1768.5" y2="306.0" stroke="#fff" stroke-width="4.5" stroke-linecap="round"/><line x1="1783.0" y1="373.0" x2="1802.5" y2="306.0" stroke="#fff" stroke-width="4.5" stroke-linecap="round"/>
<path d="M519.6,1628.0 L528.7,1591.7" stroke="#fff" stroke-width="5" fill="none" stroke-linejoin="round" stroke-linecap="round" /><path d="M533.2,1623.4 L540.0,1673.3 L534.4,1690.2" stroke="#fff" stroke-width="5" fill="none" stroke-linejoin="round" stroke-linecap="round" /><path d="M550.2,1628.0 L563.8,1589.4" stroke="#fff" stroke-width="5" fill="none" stroke-linejoin="round" stroke-linecap="round" /><path d="M567.2,1672.1 L576.9,1651.7" stroke="#fff" stroke-width="5" fill="none" stroke-linejoin="round" stroke-linecap="round" /><path d="M575.1,1625.7 L586.5,1675.5 L583.1,1689.1" stroke="#fff" stroke-width="5" fill="none" stroke-linejoin="round" stroke-linecap="round" /><path d="M600.0,1628.0 L615.9,1591.7" stroke="#fff" stroke-width="5" fill="none" stroke-linejoin="round" stroke-linecap="round" /><path d="M631.8,1625.7 L647.6,1675.5 L643.1,1689.1" stroke="#fff" stroke-width="5" fill="none" stroke-linejoin="round" stroke-linecap="round" /><path d="M619.3,1669.9 L626.1,1689.1" stroke="#fff" stroke-width="5" fill="none" stroke-linejoin="round" stroke-linecap="round" /><path d="M660.1,1591.7 L665.7,1623.4 L678.2,1590.6" stroke="#fff" stroke-width="5" fill="none" stroke-linejoin="round" stroke-linecap="round" /><path d="M698.6,1625.7 L717.8,1675.5 L714.4,1689.1" stroke="#fff" stroke-width="5" fill="none" stroke-linejoin="round" stroke-linecap="round" /><path d="M682.7,1669.9 L689.5,1689.1" stroke="#fff" stroke-width="5" fill="none" stroke-linejoin="round" stroke-linecap="round" /><path d="M723.5,1591.7 L735.9,1628.0 L743.9,1594.0" stroke="#fff" stroke-width="5" fill="none" stroke-linejoin="round" stroke-linecap="round" /><path d="M519.6,1774.0 L528.7,1809.2" stroke="#fff" stroke-width="5" fill="none" stroke-linejoin="round" stroke-linecap="round" /><path d="M533.2,1777.4 L540.0,1727.6 L534.4,1710.6" stroke="#fff" stroke-width="5" fill="none" stroke-linejoin="round" stroke-linecap="round" /><path d="M550.2,1774.0 L563.8,1811.4" stroke="#fff" stroke-width="5" fill="none" stroke-linejoin="round" stroke-linecap="round" /><path d="M567.2,1727.6 L576.3,1748.0" stroke="#fff" stroke-width="5" fill="none" stroke-linejoin="round" stroke-linecap="round" /><path d="M575.1,1775.2 L586.5,1726.5 L583.1,1711.8" stroke="#fff" stroke-width="5" fill="none" stroke-linejoin="round" stroke-linecap="round" /><path d="M600.0,1776.3 L615.9,1811.4" stroke="#fff" stroke-width="5" fill="none" stroke-linejoin="round" stroke-linecap="round" /><path d="M631.8,1774.0 L647.6,1726.5 L643.1,1711.8" stroke="#fff" stroke-width="5" fill="none" stroke-linejoin="round" stroke-linecap="round" /><path d="M619.3,1729.9 L626.1,1711.8" stroke="#fff" stroke-width="5" fill="none" stroke-linejoin="round" stroke-linecap="round" /><path d="M660.1,1809.2 L665.7,1777.4 L678.2,1810.3" stroke="#fff" stroke-width="5" fill="none" stroke-linejoin="round" stroke-linecap="round" /><path d="M698.6,1774.0 L717.8,1726.5 L714.4,1711.8" stroke="#fff" stroke-width="5" fill="none" stroke-linejoin="round" stroke-linecap="round" /><path d="M682.7,1729.9 L689.5,1711.8" stroke="#fff" stroke-width="5" fill="none" stroke-linejoin="round" stroke-linecap="round" /><path d="M723.5,1806.9 L735.9,1777.4 L749.5,1813.7" stroke="#fff" stroke-width="5" fill="none" stroke-linejoin="round" stroke-linecap="round" /><path d="M759.7,1748.0 L771.1,1774.0 L782.4,1748.0" stroke="#fff" stroke-width="5" fill="none" stroke-linejoin="round" stroke-linecap="round" /><path d="M828.8,1748.0 L837.9,1775.2 L845.8,1748.0" stroke="#fff" stroke-width="5" fill="none" stroke-linejoin="round" stroke-linecap="round" /><path d="M890.0,1748.0 L896.8,1776.3 L901.3,1748.0" stroke="#fff" stroke-width="5" fill="none" stroke-linejoin="round" stroke-linecap="round" /><path d="M935.3,1748.0 L939.8,1777.4" stroke="#fff" stroke-width="5" fill="none" stroke-linejoin="round" stroke-linecap="round" /><path d="M783.5,1811.4 L806.2,1776.3" stroke="#fff" stroke-width="5" fill="none" stroke-linejoin="round" stroke-linecap="round" /><path d="M853.7,1811.4 L870.7,1772.9" stroke="#fff" stroke-width="5" fill="none" stroke-linejoin="round" stroke-linecap="round" /><path d="M905.8,1811.4 L921.7,1771.8" stroke="#fff" stroke-width="5" fill="none" stroke-linejoin="round" stroke-linecap="round" /><path d="M944.3,1809.2 L954.5,1771.8" stroke="#fff" stroke-width="5" fill="none" stroke-linejoin="round" stroke-linecap="round" /><path d="M517.4,1690.2 L538.9,1690.2" stroke="#fff" stroke-width="5" fill="none" stroke-linejoin="round" stroke-linecap="round" /><path d="M552.5,1690.2 L592.1,1690.2" stroke="#fff" stroke-width="5" fill="none" stroke-linejoin="round" stroke-linecap="round" /><path d="M606.8,1690.2 L655.5,1690.2" stroke="#fff" stroke-width="5" fill="none" stroke-linejoin="round" stroke-linecap="round" /><path d="M682.7,1690.2 L725.8,1690.2" stroke="#fff" stroke-width="5" fill="none" stroke-linejoin="round" stroke-linecap="round" /><path d="M517.4,1710.6 L538.9,1710.6" stroke="#fff" stroke-width="5" fill="none" stroke-linejoin="round" stroke-linecap="round" /><path d="M552.5,1710.6 L592.1,1710.6" stroke="#fff" stroke-width="5" fill="none" stroke-linejoin="round" stroke-linecap="round" /><path d="M606.8,1710.6 L655.5,1710.6" stroke="#fff" stroke-width="5" fill="none" stroke-linejoin="round" stroke-linecap="round" /><path d="M682.7,1710.6 L725.8,1710.6" stroke="#fff" stroke-width="5" fill="none" stroke-linejoin="round" stroke-linecap="round" />
<path d="M1788.0,1591.7 L1795.9,1624.6" stroke="#fff" stroke-width="5" fill="none" stroke-linejoin="round" stroke-linecap="round" /><path d="M1850.3,1589.4 L1865.0,1624.6" stroke="#fff" stroke-width="5" fill="none" stroke-linejoin="round" stroke-linecap="round" /><path d="M1913.7,1589.4 L1928.4,1624.6" stroke="#fff" stroke-width="5" fill="none" stroke-linejoin="round" stroke-linecap="round" /><path d="M1965.8,1589.4 L1978.3,1625.7" stroke="#fff" stroke-width="5" fill="none" stroke-linejoin="round" stroke-linecap="round" /><path d="M2002.1,1591.7 L2010.0,1628.0" stroke="#fff" stroke-width="5" fill="none" stroke-linejoin="round" stroke-linecap="round" /><path d="M1846.9,1672.1 L1828.8,1624.6 L1811.8,1674.4 L1815.2,1690.2" stroke="#fff" stroke-width="5" fill="none" stroke-linejoin="round" stroke-linecap="round" /><path d="M1896.7,1625.7 L1882.0,1674.4 L1886.5,1690.2" stroke="#fff" stroke-width="5" fill="none" stroke-linejoin="round" stroke-linecap="round" /><path d="M1896.7,1643.8 L1909.2,1672.1" stroke="#fff" stroke-width="5" fill="none" stroke-linejoin="round" stroke-linecap="round" /><path d="M1954.5,1625.7 L1943.2,1674.4 L1946.6,1690.2" stroke="#fff" stroke-width="5" fill="none" stroke-linejoin="round" stroke-linecap="round" /><path d="M1953.4,1652.9 L1962.4,1672.1" stroke="#fff" stroke-width="5" fill="none" stroke-linejoin="round" stroke-linecap="round" /><path d="M1996.4,1622.3 L1990.7,1673.3 L1993.0,1690.2" stroke="#fff" stroke-width="5" fill="none" stroke-linejoin="round" stroke-linecap="round" /><path d="M1815.2,1690.2 L1856.0,1690.2" stroke="#fff" stroke-width="5" fill="none" stroke-linejoin="round" stroke-linecap="round" /><path d="M1886.5,1690.2 L1922.8,1690.2" stroke="#fff" stroke-width="5" fill="none" stroke-linejoin="round" stroke-linecap="round" /><path d="M1946.6,1690.2 L1976.0,1690.2" stroke="#fff" stroke-width="5" fill="none" stroke-linejoin="round" stroke-linecap="round" /><path d="M1993.0,1690.2 L2011.1,1690.2" stroke="#fff" stroke-width="5" fill="none" stroke-linejoin="round" stroke-linecap="round" /><path d="M1815.2,1710.6 L1856.0,1710.6" stroke="#fff" stroke-width="5" fill="none" stroke-linejoin="round" stroke-linecap="round" /><path d="M1886.5,1710.6 L1922.8,1710.6" stroke="#fff" stroke-width="5" fill="none" stroke-linejoin="round" stroke-linecap="round" /><path d="M1946.6,1710.6 L1976.0,1710.6" stroke="#fff" stroke-width="5" fill="none" stroke-linejoin="round" stroke-linecap="round" /><path d="M1993.0,1710.6 L2011.1,1710.6" stroke="#fff" stroke-width="5" fill="none" stroke-linejoin="round" stroke-linecap="round" /><path d="M1815.2,1714.0 L1811.8,1723.1 L1829.9,1774.0 L1846.9,1728.7" stroke="#fff" stroke-width="5" fill="none" stroke-linejoin="round" stroke-linecap="round" /><path d="M1886.5,1714.0 L1882.0,1725.3 L1896.7,1774.0 L1909.2,1728.7" stroke="#fff" stroke-width="5" fill="none" stroke-linejoin="round" stroke-linecap="round" /><path d="M1946.6,1714.0 L1943.2,1727.6 L1954.5,1775.2 L1962.4,1728.7" stroke="#fff" stroke-width="5" fill="none" stroke-linejoin="round" stroke-linecap="round" /><path d="M1993.0,1716.3 L1990.7,1729.9 L1996.4,1776.3" stroke="#fff" stroke-width="5" fill="none" stroke-linejoin="round" stroke-linecap="round" /><path d="M1793.7,1775.2 L1780.1,1811.4" stroke="#fff" stroke-width="5" fill="none" stroke-linejoin="round" stroke-linecap="round" /><path d="M1863.9,1777.4 L1845.8,1811.4" stroke="#fff" stroke-width="5" fill="none" stroke-linejoin="round" stroke-linecap="round" /><path d="M1928.4,1774.0 L1913.7,1809.2" stroke="#fff" stroke-width="5" fill="none" stroke-linejoin="round" stroke-linecap="round" /><path d="M1978.3,1772.9 L1964.7,1809.2" stroke="#fff" stroke-width="5" fill="none" stroke-linejoin="round" stroke-linecap="round" /><path d="M2011.1,1772.9 L2004.3,1809.2" stroke="#fff" stroke-width="5" fill="none" stroke-linejoin="round" stroke-linecap="round" /><path d="M1576.2,1772.9 L1585.3,1809.2" stroke="#fff" stroke-width="5" fill="none" stroke-linejoin="round" stroke-linecap="round" /><path d="M1608.0,1775.2 L1621.5,1811.4" stroke="#fff" stroke-width="5" fill="none" stroke-linejoin="round" stroke-linecap="round" /><path d="M1660.0,1777.4 L1673.6,1811.4" stroke="#fff" stroke-width="5" fill="none" stroke-linejoin="round" stroke-linecap="round" /><path d="M1718.9,1806.9 L1724.6,1776.3 L1737.1,1811.4" stroke="#fff" stroke-width="5" fill="none" stroke-linejoin="round" stroke-linecap="round" /><path d="M1589.8,1748.0 L1588.7,1777.4" stroke="#fff" stroke-width="5" fill="none" stroke-linejoin="round" stroke-linecap="round" /><path d="M1639.7,1748.0 L1631.7,1775.2" stroke="#fff" stroke-width="5" fill="none" stroke-linejoin="round" stroke-linecap="round" /><path d="M1699.7,1748.0 L1690.6,1774.0" stroke="#fff" stroke-width="5" fill="none" stroke-linejoin="round" stroke-linecap="round" /><path d="M1748.4,1748.0 L1758.6,1774.0 L1768.8,1748.0" stroke="#fff" stroke-width="5" fill="none" stroke-linejoin="round" stroke-linecap="round" />
<rect x="744.0" y="373.0" width="1042.0" height="5.0" fill="#fff"/><rect x="744.0" y="392.0" width="1042.0" height="12.0" fill="#fff"/><rect x="744.0" y="407.0" width="1042.0" height="8.0" fill="#fff"/><rect x="744.0" y="418.0" width="1042.0" height="12.0" fill="#fff"/><rect x="744.0" y="463.0" width="1042.0" height="12.0" fill="#fff"/><rect x="744.0" y="479.0" width="1042.0" height="7.0" fill="#fff"/><rect x="744.0" y="490.0" width="1042.0" height="12.0" fill="#fff"/><rect x="744.0" y="515.0" width="1042.0" height="6.0" fill="#fff"/><rect x="744.0" y="373.0" width="6.0" height="168.0" fill="#fff"/><rect x="1780.0" y="373.0" width="6.0" height="168.0" fill="#fff"/>
<g transform="translate(0,2119.6) scale(1,-1)"><rect x="744.0" y="373.0" width="1042.0" height="5.0" fill="#fff"/><rect x="744.0" y="392.0" width="1042.0" height="12.0" fill="#fff"/><rect x="744.0" y="407.0" width="1042.0" height="8.0" fill="#fff"/><rect x="744.0" y="418.0" width="1042.0" height="12.0" fill="#fff"/><rect x="744.0" y="463.0" width="1042.0" height="12.0" fill="#fff"/><rect x="744.0" y="479.0" width="1042.0" height="7.0" fill="#fff"/><rect x="744.0" y="490.0" width="1042.0" height="12.0" fill="#fff"/><rect x="744.0" y="515.0" width="1042.0" height="6.0" fill="#fff"/><rect x="744.0" y="373.0" width="6.0" height="168.0" fill="#fff"/><rect x="1780.0" y="373.0" width="6.0" height="168.0" fill="#fff"/></g>
<path d="M940.0,536.1 L964.0,530.1 L965.0,521.0" stroke="#fff" stroke-width="5" fill="none" stroke-linejoin="round" stroke-linecap="round" /><path d="M1016.1,521.0 L1017.1,530.1 L1034.2,537.1 L1040.2,541.1 L1058.2,541.1 L1070.2,532.1 L1089.3,532.1 L1156.4,554.1 L1191.5,554.1" stroke="#fff" stroke-width="5" fill="none" stroke-linejoin="round" stroke-linecap="round" /><path d="M1091.3,526.0 L1156.4,545.1 L1191.5,545.1" stroke="#fff" stroke-width="5" fill="none" stroke-linejoin="round" stroke-linecap="round" /><line x1="1191.5" y1="545.1" x2="1191.5" y2="558.1" stroke="#fff" stroke-width="5" stroke-linecap="round"/><path d="M1238,521 L1238,548 A26,22 0 0 0 1290.6,548 L1290.6,521" stroke="#fff" stroke-width="5" fill="none" stroke-linejoin="round" stroke-linecap="round" /><line x1="1245.0" y1="536.0" x2="1285.0" y2="536.0" stroke="#fff" stroke-width="4" stroke-linecap="round"/><line x1="1245.0" y1="548.0" x2="1285.0" y2="548.0" stroke="#fff" stroke-width="4" stroke-linecap="round"/><path d="M1192.5,546.1 L1193.5,558.1 L1238.5,620.2" stroke="#fff" stroke-width="6" fill="none" stroke-linejoin="round" stroke-linecap="round" /><path d="M1338.7,546.1 L1337.7,558.1 L1292.6,620.2" stroke="#fff" stroke-width="6" fill="none" stroke-linejoin="round" stroke-linecap="round" /><path d="M1252,596 L1252,589 A13,12 0 0 1 1278,589 L1278,596" stroke="#fff" stroke-width="5" fill="none" stroke-linejoin="round" stroke-linecap="round" /><rect x="1246.0" y="599.5" width="39.0" height="20.0" rx="0" stroke="#fff" stroke-width="5" fill="none"/><rect x="1246.0" y="606.0" width="39.0" height="14.0" fill="#fff"/><rect x="1250.5" y="609.0" width="11.0" height="7.0" fill="#000"/><rect x="1268.5" y="609.0" width="11.0" height="7.0" fill="#000"/><rect x="1242.5" y="622.5" width="44.0" height="6.0" fill="#fff"/><path d="M1250,656 A15.5,10 0 0 0 1281,656" stroke="#fff" stroke-width="5" fill="none" stroke-linejoin="round" stroke-linecap="round" /><path d="M959.1,643.3 A38,38 0 0 1 1005.1,606.3 Q1020,612 1040,622 L1208,622 L1215,625 L1308,625 Q1314,626 1314,632 L1314,654 Q1314,660 1308,660 L1044,662 Q1028,664 1018,672 A38,38 0 0 1 959.1,643.3Z" stroke="#fff" stroke-width="5" fill="none" stroke-linejoin="round" stroke-linecap="round" /><circle cx="997.1" cy="643.3" r="21.5" stroke="#fff" stroke-width="5" fill="none"/><polygon points="1011.1,643.3 1004.1,655.4 990.1,655.4 983.1,643.3 990.1,631.2 1004.1,631.2" fill="#fff"/><rect x="1031.2" y="633.8" width="267.5" height="18.4" rx="0" stroke="#fff" stroke-width="5" fill="none"/><line x1="1049.2" y1="636.2" x2="1049.2" y2="649.3" stroke="#fff" stroke-width="5" stroke-linecap="round"/><line x1="966.0" y1="668.0" x2="953.0" y2="728.0" stroke="#fff" stroke-width="5" stroke-linecap="round"/><line x1="1018.0" y1="674.0" x2="1012.0" y2="728.0" stroke="#fff" stroke-width="5" stroke-linecap="round"/><path d="M1044.2,722.4 L1160.4,578.1 L1166.4,574.1 L1204.5,574.1" stroke="#fff" stroke-width="5" fill="none" stroke-linejoin="round" stroke-linecap="round" /><path d="M1064.2,728.4 L1168.4,584.2 L1204.5,584.2" stroke="#fff" stroke-width="5" fill="none" stroke-linejoin="round" stroke-linecap="round" /><line x1="1052.2" y1="724.4" x2="1154.4" y2="588.2" stroke="#fff" stroke-width="1.5" stroke-linecap="round"/><line x1="1058.2" y1="726.4" x2="1100.3" y2="664.3" stroke="#fff" stroke-width="1.5" stroke-linecap="round"/><path d="M1328,577.5 L1362,577.5 Q1374.3,577.5 1374.3,590 L1374.3,724" stroke="#fff" stroke-width="13" fill="none" stroke-linejoin="round" stroke-linecap="butt" /><path d="M1328,577.5 L1362,577.5 Q1374.3,577.5 1374.3,590 L1374.3,720" stroke="#000" stroke-width="1.2" fill="none" stroke-linejoin="round" stroke-linecap="round" /><rect x="1352.0" y="718.5" width="29.0" height="11.0" fill="#fff"/><circle cx="1382.0" cy="641.0" r="6.0" fill="#fff"/><rect x="1378.0" y="650.0" width="8.0" height="25.0" fill="#fff"/>
<g transform="translate(0,2119.6) scale(1,-1)"><path d="M940.0,536.1 L964.0,530.1 L965.0,521.0" stroke="#fff" stroke-width="5" fill="none" stroke-linejoin="round" stroke-linecap="round" /><path d="M1016.1,521.0 L1017.1,530.1 L1034.2,537.1 L1040.2,541.1 L1058.2,541.1 L1070.2,532.1 L1089.3,532.1 L1156.4,554.1 L1191.5,554.1" stroke="#fff" stroke-width="5" fill="none" stroke-linejoin="round" stroke-linecap="round" /><path d="M1091.3,526.0 L1156.4,545.1 L1191.5,545.1" stroke="#fff" stroke-width="5" fill="none" stroke-linejoin="round" stroke-linecap="round" /><line x1="1191.5" y1="545.1" x2="1191.5" y2="558.1" stroke="#fff" stroke-width="5" stroke-linecap="round"/><path d="M1238,521 L1238,548 A26,22 0 0 0 1290.6,548 L1290.6,521" stroke="#fff" stroke-width="5" fill="none" stroke-linejoin="round" stroke-linecap="round" /><line x1="1245.0" y1="536.0" x2="1285.0" y2="536.0" stroke="#fff" stroke-width="4" stroke-linecap="round"/><line x1="1245.0" y1="548.0" x2="1285.0" y2="548.0" stroke="#fff" stroke-width="4" stroke-linecap="round"/><path d="M1192.5,546.1 L1193.5,558.1 L1238.5,620.2" stroke="#fff" stroke-width="6" fill="none" stroke-linejoin="round" stroke-linecap="round" /><path d="M1338.7,546.1 L1337.7,558.1 L1292.6,620.2" stroke="#fff" stroke-width="6" fill="none" stroke-linejoin="round" stroke-linecap="round" /><path d="M1252,596 L1252,589 A13,12 0 0 1 1278,589 L1278,596" stroke="#fff" stroke-width="5" fill="none" stroke-linejoin="round" stroke-linecap="round" /><rect x="1246.0" y="599.5" width="39.0" height="20.0" rx="0" stroke="#fff" stroke-width="5" fill="none"/><rect x="1246.0" y="606.0" width="39.0" height="14.0" fill="#fff"/><rect x="1250.5" y="609.0" width="11.0" height="7.0" fill="#000"/><rect x="1268.5" y="609.0" width="11.0" height="7.0" fill="#000"/><rect x="1242.5" y="622.5" width="44.0" height="6.0" fill="#fff"/><path d="M1250,656 A15.5,10 0 0 0 1281,656" stroke="#fff" stroke-width="5" fill="none" stroke-linejoin="round" stroke-linecap="round" /><path d="M959.1,643.3 A38,38 0 0 1 1005.1,606.3 Q1020,612 1040,622 L1208,622 L1215,625 L1308,625 Q1314,626 1314,632 L1314,654 Q1314,660 1308,660 L1044,662 Q1028,664 1018,672 A38,38 0 0 1 959.1,643.3Z" stroke="#fff" stroke-width="5" fill="none" stroke-linejoin="round" stroke-linecap="round" /><circle cx="997.1" cy="643.3" r="21.5" stroke="#fff" stroke-width="5" fill="none"/><polygon points="1011.1,643.3 1004.1,655.4 990.1,655.4 983.1,643.3 990.1,631.2 1004.1,631.2" fill="#fff"/><rect x="1031.2" y="633.8" width="267.5" height="18.4" rx="0" stroke="#fff" stroke-width="5" fill="none"/><line x1="1049.2" y1="636.2" x2="1049.2" y2="649.3" stroke="#fff" stroke-width="5" stroke-linecap="round"/><line x1="966.0" y1="668.0" x2="953.0" y2="728.0" stroke="#fff" stroke-width="5" stroke-linecap="round"/><line x1="1018.0" y1="674.0" x2="1012.0" y2="728.0" stroke="#fff" stroke-width="5" stroke-linecap="round"/><path d="M1044.2,722.4 L1160.4,578.1 L1166.4,574.1 L1204.5,574.1" stroke="#fff" stroke-width="5" fill="none" stroke-linejoin="round" stroke-linecap="round" /><path d="M1064.2,728.4 L1168.4,584.2 L1204.5,584.2" stroke="#fff" stroke-width="5" fill="none" stroke-linejoin="round" stroke-linecap="round" /><line x1="1052.2" y1="724.4" x2="1154.4" y2="588.2" stroke="#fff" stroke-width="1.5" stroke-linecap="round"/><line x1="1058.2" y1="726.4" x2="1100.3" y2="664.3" stroke="#fff" stroke-width="1.5" stroke-linecap="round"/><path d="M1328,577.5 L1362,577.5 Q1374.3,577.5 1374.3,590 L1374.3,724" stroke="#fff" stroke-width="13" fill="none" stroke-linejoin="round" stroke-linecap="butt" /><path d="M1328,577.5 L1362,577.5 Q1374.3,577.5 1374.3,590 L1374.3,720" stroke="#000" stroke-width="1.2" fill="none" stroke-linejoin="round" stroke-linecap="round" /><rect x="1352.0" y="718.5" width="29.0" height="11.0" fill="#fff"/><circle cx="1382.0" cy="641.0" r="6.0" fill="#fff"/><rect x="1378.0" y="650.0" width="8.0" height="25.0" fill="#fff"/></g>
<path d="M1311,732 L947,732 A144,130 0 0 0 803.5,862 L803.5,1060" stroke="#fff" stroke-width="3.5" fill="none" stroke-linejoin="round" stroke-linecap="round" /><path d="M940,739.5 A132,123 0 0 0 808,862 L808,1060" stroke="#fff" stroke-width="4" fill="none" stroke-linejoin="round" stroke-linecap="round" /><circle cx="1167.3" cy="802.9" r="15.4" fill="#fff"/><circle cx="1167.3" cy="802.9" r="9" stroke="#000" stroke-width="0.8" stroke-dasharray="2 3" fill="none"/><circle cx="1167.3" cy="802.9" r="2.6" fill="#000"/><circle cx="1220.8" cy="802.9" r="15.4" fill="#fff"/><circle cx="1220.8" cy="802.9" r="9" stroke="#000" stroke-width="0.8" stroke-dasharray="2 3" fill="none"/><circle cx="1220.8" cy="802.9" r="2.6" fill="#000"/><circle cx="881.3" cy="866.5" r="15.4" fill="#fff"/><circle cx="881.3" cy="866.5" r="9" stroke="#000" stroke-width="0.8" stroke-dasharray="2 3" fill="none"/><circle cx="881.3" cy="866.5" r="2.6" fill="#000"/><circle cx="1113.4" cy="866.5" r="15.4" fill="#fff"/><circle cx="1113.4" cy="866.5" r="9" stroke="#000" stroke-width="0.8" stroke-dasharray="2 3" fill="none"/><circle cx="1113.4" cy="866.5" r="2.6" fill="#000"/><circle cx="1167.3" cy="866.5" r="15.4" fill="#fff"/><circle cx="1167.3" cy="866.5" r="9" stroke="#000" stroke-width="0.8" stroke-dasharray="2 3" fill="none"/><circle cx="1167.3" cy="866.5" r="2.6" fill="#000"/><circle cx="1220.8" cy="866.5" r="15.4" fill="#fff"/><circle cx="1220.8" cy="866.5" r="9" stroke="#000" stroke-width="0.8" stroke-dasharray="2 3" fill="none"/><circle cx="1220.8" cy="866.5" r="2.6" fill="#000"/><circle cx="881.3" cy="930.9" r="15.4" fill="#fff"/><circle cx="881.3" cy="930.9" r="9" stroke="#000" stroke-width="0.8" stroke-dasharray="2 3" fill="none"/><circle cx="881.3" cy="930.9" r="2.6" fill="#000"/><circle cx="881.3" cy="995.3" r="15.4" fill="#fff"/><circle cx="881.3" cy="995.3" r="9" stroke="#000" stroke-width="0.8" stroke-dasharray="2 3" fill="none"/><circle cx="881.3" cy="995.3" r="2.6" fill="#000"/><circle cx="1113.4" cy="930.9" r="15.4" fill="#fff"/><circle cx="1113.4" cy="930.9" r="9" stroke="#000" stroke-width="0.8" stroke-dasharray="2 3" fill="none"/><circle cx="1113.4" cy="930.9" r="2.6" fill="#000"/><circle cx="1113.4" cy="995.3" r="15.4" fill="#fff"/><circle cx="1113.4" cy="995.3" r="9" stroke="#000" stroke-width="0.8" stroke-dasharray="2 3" fill="none"/><circle cx="1113.4" cy="995.3" r="2.6" fill="#000"/><circle cx="1167.3" cy="930.9" r="15.4" fill="#fff"/><circle cx="1167.3" cy="930.9" r="9" stroke="#000" stroke-width="0.8" stroke-dasharray="2 3" fill="none"/><circle cx="1167.3" cy="930.9" r="2.6" fill="#000"/><circle cx="1167.3" cy="995.3" r="15.4" fill="#fff"/><circle cx="1167.3" cy="995.3" r="9" stroke="#000" stroke-width="0.8" stroke-dasharray="2 3" fill="none"/><circle cx="1167.3" cy="995.3" r="2.6" fill="#000"/><circle cx="1220.8" cy="930.9" r="15.4" fill="#fff"/><circle cx="1220.8" cy="930.9" r="9" stroke="#000" stroke-width="0.8" stroke-dasharray="2 3" fill="none"/><circle cx="1220.8" cy="930.9" r="2.6" fill="#000"/><circle cx="1220.8" cy="995.3" r="15.4" fill="#fff"/><circle cx="1220.8" cy="995.3" r="9" stroke="#000" stroke-width="0.8" stroke-dasharray="2 3" fill="none"/><circle cx="1220.8" cy="995.3" r="2.6" fill="#000"/><circle cx="1274.4" cy="930.9" r="15.4" fill="#fff"/><circle cx="1274.4" cy="930.9" r="9" stroke="#000" stroke-width="0.8" stroke-dasharray="2 3" fill="none"/><circle cx="1274.4" cy="930.9" r="2.6" fill="#000"/><circle cx="1274.4" cy="995.3" r="15.4" fill="#fff"/><circle cx="1274.4" cy="995.3" r="9" stroke="#000" stroke-width="0.8" stroke-dasharray="2 3" fill="none"/><circle cx="1274.4" cy="995.3" r="2.6" fill="#000"/><circle cx="883.0" cy="773.8" r="20.5" fill="#fff"/><circle cx="883.0" cy="773.8" r="13.5" stroke="#000" stroke-width="2.6" fill="none"/><circle cx="883.0" cy="773.8" r="2.6" fill="#000"/><circle cx="828.8" cy="952.9" r="20.5" fill="#fff"/><circle cx="828.8" cy="952.9" r="13.5" stroke="#000" stroke-width="2.6" fill="none"/><circle cx="828.8" cy="952.9" r="2.6" fill="#000"/><circle cx="1334.7" cy="757.4" r="23.0" fill="#fff"/><circle cx="1334.7" cy="757.4" r="13.4" stroke="#000" stroke-width="1.6" fill="none"/><circle cx="1334.7" cy="757.4" r="2.6" fill="#000"/><circle cx="1302.4" cy="795.8" r="20.8" fill="#fff"/><circle cx="1302.4" cy="795.8" r="14.3" stroke="#000" stroke-width="3" fill="none"/><circle cx="1302.4" cy="795.8" r="2.6" fill="#000"/><circle cx="1334.7" cy="939.3" r="23.0" fill="#fff"/><circle cx="1334.7" cy="939.3" r="13.4" stroke="#000" stroke-width="1.6" fill="none"/><circle cx="1334.7" cy="939.3" r="2.6" fill="#000"/><circle cx="1124.0" cy="795.3" r="20.5" fill="#fff"/><circle cx="1124.0" cy="795.3" r="14.0" stroke="#000" stroke-width="3" fill="none"/><circle cx="1124.0" cy="795.3" r="2.6" fill="#000"/><path d="M1311.0,732.0 L1311.0,783.0 L1347.0,783.0 L1347.0,912.0 L1311.0,912.0 L1311.0,968.0" stroke="#fff" stroke-width="5" fill="none" stroke-linejoin="round" stroke-linecap="round" /><g transform="translate(0,2119.6) scale(1,-1)"><path d="M1311,732 L947,732 A144,130 0 0 0 803.5,862 L803.5,1060" stroke="#fff" stroke-width="3.5" fill="none" stroke-linejoin="round" stroke-linecap="round" /><path d="M940,739.5 A132,123 0 0 0 808,862 L808,1060" stroke="#fff" stroke-width="4" fill="none" stroke-linejoin="round" stroke-linecap="round" /><circle cx="1167.3" cy="802.9" r="15.4" fill="#fff"/><circle cx="1167.3" cy="802.9" r="9" stroke="#000" stroke-width="0.8" stroke-dasharray="2 3" fill="none"/><circle cx="1167.3" cy="802.9" r="2.6" fill="#000"/><circle cx="1220.8" cy="802.9" r="15.4" fill="#fff"/><circle cx="1220.8" cy="802.9" r="9" stroke="#000" stroke-width="0.8" stroke-dasharray="2 3" fill="none"/><circle cx="1220.8" cy="802.9" r="2.6" fill="#000"/><circle cx="881.3" cy="866.5" r="15.4" fill="#fff"/><circle cx="881.3" cy="866.5" r="9" stroke="#000" stroke-width="0.8" stroke-dasharray="2 3" fill="none"/><circle cx="881.3" cy="866.5" r="2.6" fill="#000"/><circle cx="1113.4" cy="866.5" r="15.4" fill="#fff"/><circle cx="1113.4" cy="866.5" r="9" stroke="#000" stroke-width="0.8" stroke-dasharray="2 3" fill="none"/><circle cx="1113.4" cy="866.5" r="2.6" fill="#000"/><circle cx="1167.3" cy="866.5" r="15.4" fill="#fff"/><circle cx="1167.3" cy="866.5" r="9" stroke="#000" stroke-width="0.8" stroke-dasharray="2 3" fill="none"/><circle cx="1167.3" cy="866.5" r="2.6" fill="#000"/><circle cx="1220.8" cy="866.5" r="15.4" fill="#fff"/><circle cx="1220.8" cy="866.5" r="9" stroke="#000" stroke-width="0.8" stroke-dasharray="2 3" fill="none"/><circle cx="1220.8" cy="866.5" r="2.6" fill="#000"/><circle cx="881.3" cy="930.9" r="15.4" fill="#fff"/><circle cx="881.3" cy="930.9" r="9" stroke="#000" stroke-width="0.8" stroke-dasharray="2 3" fill="none"/><circle cx="881.3" cy="930.9" r="2.6" fill="#000"/><circle cx="881.3" cy="995.3" r="15.4" fill="#fff"/><circle cx="881.3" cy="995.3" r="9" stroke="#000" stroke-width="0.8" stroke-dasharray="2 3" fill="none"/><circle cx="881.3" cy="995.3" r="2.6" fill="#000"/><circle cx="1113.4" cy="930.9" r="15.4" fill="#fff"/><circle cx="1113.4" cy="930.9" r="9" stroke="#000" stroke-width="0.8" stroke-dasharray="2 3" fill="none"/><circle cx="1113.4" cy="930.9" r="2.6" fill="#000"/><circle cx="1113.4" cy="995.3" r="15.4" fill="#fff"/><circle cx="1113.4" cy="995.3" r="9" stroke="#000" stroke-width="0.8" stroke-dasharray="2 3" fill="none"/><circle cx="1113.4" cy="995.3" r="2.6" fill="#000"/><circle cx="1167.3" cy="930.9" r="15.4" fill="#fff"/><circle cx="1167.3" cy="930.9" r="9" stroke="#000" stroke-width="0.8" stroke-dasharray="2 3" fill="none"/><circle cx="1167.3" cy="930.9" r="2.6" fill="#000"/><circle cx="1167.3" cy="995.3" r="15.4" fill="#fff"/><circle cx="1167.3" cy="995.3" r="9" stroke="#000" stroke-width="0.8" stroke-dasharray="2 3" fill="none"/><circle cx="1167.3" cy="995.3" r="2.6" fill="#000"/><circle cx="1220.8" cy="930.9" r="15.4" fill="#fff"/><circle cx="1220.8" cy="930.9" r="9" stroke="#000" stroke-width="0.8" stroke-dasharray="2 3" fill="none"/><circle cx="1220.8" cy="930.9" r="2.6" fill="#000"/><circle cx="1220.8" cy="995.3" r="15.4" fill="#fff"/><circle cx="1220.8" cy="995.3" r="9" stroke="#000" stroke-width="0.8" stroke-dasharray="2 3" fill="none"/><circle cx="1220.8" cy="995.3" r="2.6" fill="#000"/><circle cx="1274.4" cy="930.9" r="15.4" fill="#fff"/><circle cx="1274.4" cy="930.9" r="9" stroke="#000" stroke-width="0.8" stroke-dasharray="2 3" fill="none"/><circle cx="1274.4" cy="930.9" r="2.6" fill="#000"/><circle cx="1274.4" cy="995.3" r="15.4" fill="#fff"/><circle cx="1274.4" cy="995.3" r="9" stroke="#000" stroke-width="0.8" stroke-dasharray="2 3" fill="none"/><circle cx="1274.4" cy="995.3" r="2.6" fill="#000"/><circle cx="883.0" cy="773.8" r="20.5" fill="#fff"/><circle cx="883.0" cy="773.8" r="13.5" stroke="#000" stroke-width="2.6" fill="none"/><circle cx="883.0" cy="773.8" r="2.6" fill="#000"/><circle cx="828.8" cy="952.9" r="20.5" fill="#fff"/><circle cx="828.8" cy="952.9" r="13.5" stroke="#000" stroke-width="2.6" fill="none"/><circle cx="828.8" cy="952.9" r="2.6" fill="#000"/><circle cx="1334.7" cy="757.4" r="23.0" fill="#fff"/><circle cx="1334.7" cy="757.4" r="13.4" stroke="#000" stroke-width="1.6" fill="none"/><circle cx="1334.7" cy="757.4" r="2.6" fill="#000"/><circle cx="1302.4" cy="795.8" r="20.8" fill="#fff"/><circle cx="1302.4" cy="795.8" r="14.3" stroke="#000" stroke-width="3" fill="none"/><circle cx="1302.4" cy="795.8" r="2.6" fill="#000"/><circle cx="1334.7" cy="939.3" r="23.0" fill="#fff"/><circle cx="1334.7" cy="939.3" r="13.4" stroke="#000" stroke-width="1.6" fill="none"/><circle cx="1334.7" cy="939.3" r="2.6" fill="#000"/><circle cx="1124.0" cy="795.3" r="20.5" fill="#fff"/><circle cx="1124.0" cy="795.3" r="14.0" stroke="#000" stroke-width="3" fill="none"/><circle cx="1124.0" cy="795.3" r="2.6" fill="#000"/><path d="M1311.0,732.0 L1311.0,783.0 L1347.0,783.0 L1347.0,912.0 L1311.0,912.0 L1311.0,968.0" stroke="#fff" stroke-width="5" fill="none" stroke-linejoin="round" stroke-linecap="round" /></g><circle cx="881.3" cy="1059.8" r="15.4" fill="#fff"/><circle cx="881.3" cy="1059.8" r="9" stroke="#000" stroke-width="0.8" stroke-dasharray="2 3" fill="none"/><circle cx="881.3" cy="1059.8" r="2.6" fill="#000"/><circle cx="1167.3" cy="1059.8" r="15.4" fill="#fff"/><circle cx="1167.3" cy="1059.8" r="9" stroke="#000" stroke-width="0.8" stroke-dasharray="2 3" fill="none"/><circle cx="1167.3" cy="1059.8" r="2.6" fill="#000"/><circle cx="1220.8" cy="1059.8" r="15.4" fill="#fff"/><circle cx="1220.8" cy="1059.8" r="9" stroke="#000" stroke-width="0.8" stroke-dasharray="2 3" fill="none"/><circle cx="1220.8" cy="1059.8" r="2.6" fill="#000"/><circle cx="1274.4" cy="1059.8" r="15.4" fill="#fff"/><circle cx="1274.4" cy="1059.8" r="9" stroke="#000" stroke-width="0.8" stroke-dasharray="2 3" fill="none"/><circle cx="1274.4" cy="1059.8" r="2.6" fill="#000"/><circle cx="1095.7" cy="1059.8" r="15.4" fill="#fff"/><circle cx="1095.7" cy="1059.8" r="9" stroke="#000" stroke-width="0.8" stroke-dasharray="2 3" fill="none"/><circle cx="1095.7" cy="1059.8" r="2.6" fill="#000"/><circle cx="1293.0" cy="859.6" r="43.0" fill="#fff"/><circle cx="1293" cy="859.6" r="31" stroke="#000" stroke-width="1" stroke-dasharray="3 2" fill="none"/><circle cx="1293.0" cy="859.6" r="22.5" stroke="#000" stroke-width="1.6" fill="none"/><path d="M1286,843 A17,17 0 0 0 1286,876 Z" fill="#000"/><path d="M1302,843 A17,17 0 0 1 1302,876 Z" fill="#000"/><circle cx="1292.8" cy="1259.6" r="41.0" stroke="#fff" stroke-width="5" fill="none"/><circle cx="1292.8" cy="1259.6" r="21.0" stroke="#fff" stroke-width="5" fill="none"/><circle cx="954.3" cy="1059.8" r="24.5" stroke="#fff" stroke-width="5" fill="none"/><rect x="950.0" y="1033.0" width="3.5" height="54.0" fill="#fff"/><rect x="956.0" y="1033.0" width="3.5" height="54.0" fill="#fff"/><path d="M1079,1038 Q1095.7,1030 1112,1038" stroke="#fff" stroke-width="5" fill="none" stroke-linejoin="round" stroke-linecap="round" /><path d="M1079,1082 Q1095.7,1090 1112,1082" stroke="#fff" stroke-width="5" fill="none" stroke-linejoin="round" stroke-linecap="round" />
<path d="M1384,718.5 L1774.6,718.5 L1774.6,737" stroke="#fff" stroke-width="5" fill="none" stroke-linejoin="round" stroke-linecap="round" /><path d="M1774.6,740 A124.4,116 0 0 1 1899,856 L1899,963" stroke="#fff" stroke-width="12" fill="none" stroke-linejoin="round" stroke-linecap="round" /><path d="M1774.6,740 A124.4,116 0 0 1 1899,856 L1899,963" stroke="#000" stroke-width="1.3" fill="none" stroke-linejoin="round" stroke-linecap="round" /><line x1="1362.0" y1="721.0" x2="1384.0" y2="721.0" stroke="#fff" stroke-width="4" stroke-linecap="round"/><g transform="translate(1587.5,808.7) rotate(180)"><path d="M-77.5,-27 L-68.2,-27 L-68.2,0 Q-67.9,13 -45.4,18.2 L-45.4,27.4 Q-77.5,27.7 -77.5,0 Z" stroke="#fff" stroke-width="4.7" fill="none" stroke-linejoin="round" stroke-linecap="round" /><path d="M6.4,19.3 A27.3,27.3 0 1 1 14.4,-0.0" stroke="#fff" stroke-width="5" fill="none" stroke-linejoin="round" stroke-linecap="round" /><path d="M0.3,13.2 A18.7,18.7 0 1 1 5.8,-0.0" stroke="#fff" stroke-width="5" fill="none" stroke-linejoin="round" stroke-linecap="round" /><line x1="-28.9" y1="-4.7" x2="6.1" y2="-4.7" stroke="#fff" stroke-width="4.7" stroke-linecap="round"/><line x1="-40.4" y1="4.7" x2="17.1" y2="4.7" stroke="#fff" stroke-width="4.7" stroke-linecap="round"/><circle cx="49.4" cy="0.0" r="28.0" stroke="#fff" stroke-width="5" fill="none"/><circle cx="49.4" cy="0.0" r="18.3" stroke="#fff" stroke-width="5" fill="none"/><line x1="19.4" y1="4.7" x2="30.4" y2="4.7" stroke="#fff" stroke-width="3" stroke-linecap="round"/><line x1="68.4" y1="4.7" x2="79.4" y2="4.7" stroke="#fff" stroke-width="3" stroke-linecap="round"/><text x="0" y="55.7" fill="#fff" font-family="Liberation Sans, sans-serif" font-weight="bold" font-size="28" stroke="#fff" stroke-width="1.6" stroke-linejoin="round" text-anchor="middle" letter-spacing="0.5">ROVER</text></g><circle cx="1798.0" cy="767.1" r="20.7" fill="#fff"/><circle cx="1798.0" cy="767.1" r="14.7" stroke="#000" stroke-width="3" fill="none"/><circle cx="1798.0" cy="767.1" r="2.6" fill="#000"/><circle cx="1873.9" cy="874.1" r="19.8" fill="#fff"/><circle cx="1873.9" cy="874.1" r="14.0" stroke="#000" stroke-width="3" fill="none"/><circle cx="1873.9" cy="874.1" r="2.6" fill="#000"/><circle cx="1831.3" cy="943.5" r="23.3" fill="#fff"/><circle cx="1831.3" cy="943.5" r="13.5" stroke="#000" stroke-width="1.6" fill="none"/><circle cx="1831.3" cy="943.5" r="2.6" fill="#000"/><path d="M1427.6,961 Q1435.6,961 1437.6,950 Q1440.6,941 1450.6,941 L1501,941 Q1511,941 1514,950 Q1516,961 1524,961" stroke="#fff" stroke-width="4.5" fill="none" stroke-linejoin="round" stroke-linecap="round" /><path d="M1648.3,961 Q1656.3,961 1658.3,950 Q1661.3,941 1671.3,941 L1720.6,941 Q1730.6,941 1733.6,950 Q1735.6,961 1743.6,961" stroke="#fff" stroke-width="4.5" fill="none" stroke-linejoin="round" stroke-linecap="round" /><line x1="1311.0" y1="962.5" x2="1902.0" y2="962.5" stroke="#fff" stroke-width="4" stroke-linecap="round"/><rect x="1297.5" y="966.5" width="611.0" height="184.5" rx="5" stroke="#fff" stroke-width="9" fill="#000"/><circle cx="1435.0" cy="995.6" r="9.7" stroke="#fff" stroke-width="5" fill="none"/><path d="M1435.0,987.6 A8,8 0 0 1 1435.0,1003.6 Z" fill="#fff" transform="rotate(180 1435.0 995.6)"/><circle cx="1488.3" cy="995.6" r="9.7" stroke="#fff" stroke-width="5" fill="none"/><path d="M1488.3,987.6 A8,8 0 0 1 1488.3,1003.6 Z" fill="#fff" transform="rotate(-60 1488.3 995.6)"/><circle cx="1542.2" cy="995.6" r="9.7" stroke="#fff" stroke-width="5" fill="none"/><path d="M1542.2,987.6 A8,8 0 0 1 1542.2,1003.6 Z" fill="#fff" transform="rotate(30 1542.2 995.6)"/><circle cx="1595.5" cy="995.6" r="9.7" stroke="#fff" stroke-width="5" fill="none"/><circle cx="1649.0" cy="995.6" r="9.7" stroke="#fff" stroke-width="5" fill="none"/><circle cx="1702.3" cy="995.6" r="9.7" stroke="#fff" stroke-width="5" fill="none"/><circle cx="1435.0" cy="1060.0" r="9.7" stroke="#fff" stroke-width="5" fill="none"/><path d="M1435.0,1052.0 A8,8 0 0 1 1435.0,1068.0 Z" fill="#fff" transform="rotate(180 1435.0 1060.0)"/><circle cx="1488.3" cy="1060.0" r="9.7" stroke="#fff" stroke-width="5" fill="none"/><path d="M1488.3,1052.0 A8,8 0 0 1 1488.3,1068.0 Z" fill="#fff" transform="rotate(-60 1488.3 1060.0)"/><circle cx="1542.2" cy="1060.0" r="9.7" stroke="#fff" stroke-width="5" fill="none"/><path d="M1542.2,1052.0 A8,8 0 0 1 1542.2,1068.0 Z" fill="#fff" transform="rotate(30 1542.2 1060.0)"/><circle cx="1595.5" cy="1060.0" r="9.7" stroke="#fff" stroke-width="5" fill="none"/><circle cx="1649.0" cy="1060.0" r="9.7" stroke="#fff" stroke-width="5" fill="none"/><circle cx="1702.3" cy="1060.0" r="9.7" stroke="#fff" stroke-width="5" fill="none"/><circle cx="1756.2" cy="1060.0" r="9.7" stroke="#fff" stroke-width="5" fill="none"/><circle cx="1435.0" cy="1124.3" r="9.7" stroke="#fff" stroke-width="5" fill="none"/><path d="M1435.0,1116.3 A8,8 0 0 1 1435.0,1132.3 Z" fill="#fff" transform="rotate(180 1435.0 1124.3)"/><circle cx="1488.3" cy="1124.3" r="9.7" stroke="#fff" stroke-width="5" fill="none"/><path d="M1488.3,1116.3 A8,8 0 0 1 1488.3,1132.3 Z" fill="#fff" transform="rotate(-60 1488.3 1124.3)"/><circle cx="1542.2" cy="1124.3" r="9.7" stroke="#fff" stroke-width="5" fill="none"/><path d="M1542.2,1116.3 A8,8 0 0 1 1542.2,1132.3 Z" fill="#fff" transform="rotate(30 1542.2 1124.3)"/><circle cx="1595.5" cy="1124.3" r="9.7" stroke="#fff" stroke-width="5" fill="none"/><circle cx="1649.0" cy="1124.3" r="9.7" stroke="#fff" stroke-width="5" fill="none"/><circle cx="1702.3" cy="1124.3" r="9.7" stroke="#fff" stroke-width="5" fill="none"/><circle cx="1831.3" cy="989.0" r="9.5" stroke="#fff" stroke-width="5" fill="none"/><circle cx="1831.3" cy="1129.4" r="9.5" stroke="#fff" stroke-width="5" fill="none"/><circle cx="1334.7" cy="1009.8" r="20.8" fill="#fff"/><circle cx="1334.7" cy="1009.8" r="14.3" stroke="#000" stroke-width="3" fill="none"/><circle cx="1334.7" cy="1009.8" r="2.6" fill="#000"/><circle cx="1334.7" cy="1109.6" r="20.8" fill="#fff"/><circle cx="1334.7" cy="1109.6" r="14.3" stroke="#000" stroke-width="3" fill="none"/><circle cx="1334.7" cy="1109.6" r="2.6" fill="#000"/><rect x="1367.7" y="1155.0" width="13.3" height="245.0" fill="#fff"/><rect x="1373.7" y="1155.0" width="1.2" height="245.0" fill="#000"/><path d="M1436,1155 L1384.3,1203.6 L1384.3,1289 L1422.7,1289 Q1422.7,1289 1422.7,1300 L1422.7,1345 L1748,1345 Q1759,1345 1759,1334 L1759,1168 Q1759,1155 1772,1155" stroke="#fff" stroke-width="5" fill="none" stroke-linejoin="round" stroke-linecap="round" /><line x1="1384.3" y1="1289.0" x2="1384.3" y2="1345.0" stroke="#fff" stroke-width="5" stroke-linecap="round"/><line x1="1376.0" y1="1345.0" x2="1422.7" y2="1345.0" stroke="#fff" stroke-width="5" stroke-linecap="round"/><circle cx="1402.6" cy="1317.4" r="16.0" fill="#fff"/><circle cx="1402.6" cy="1317.4" r="10.9" stroke="#000" stroke-width="2.8" fill="none"/><circle cx="1402.6" cy="1317.4" r="2.6" fill="#000"/><circle cx="1830.7" cy="1177.0" r="23.0" fill="#fff"/><circle cx="1830.7" cy="1177.0" r="15.6" stroke="#000" stroke-width="2.8" fill="none"/><circle cx="1830.7" cy="1177.0" r="2.6" fill="#000"/>
<path d="M1386,669 C1430,650 1470,620 1501,574 L1538,521" stroke="#fff" stroke-width="5" fill="none" stroke-linejoin="round" stroke-linecap="round" /><path d="M1394,680 C1440,660 1480,625 1512,577 L1555,521" stroke="#fff" stroke-width="5" fill="none" stroke-linejoin="round" stroke-linecap="round" /><path d="M1386,685 C1450,675 1510,650 1533,622 C1545,600 1541,570 1533,547" stroke="#fff" stroke-width="5" fill="none" stroke-linejoin="round" stroke-linecap="round" /><path d="M1386,701 C1450,695 1520,670 1550,632 C1565,610 1562,570 1550,542" stroke="#fff" stroke-width="5" fill="none" stroke-linejoin="round" stroke-linecap="round" /><path d="M1386,1419 C1450,1422 1520,1450 1545,1490 C1562,1520 1560,1550 1551,1577" stroke="#fff" stroke-width="5" fill="none" stroke-linejoin="round" stroke-linecap="round" /><path d="M1386,1439 C1440,1440 1500,1460 1525,1485 C1542,1510 1542,1545 1531,1572" stroke="#fff" stroke-width="5" fill="none" stroke-linejoin="round" stroke-linecap="round" /><path d="M1386,1451 C1425,1465 1480,1495 1512,1532 L1562,1598" stroke="#fff" stroke-width="5" fill="none" stroke-linejoin="round" stroke-linecap="round" /><path d="M1398,1439 C1430,1455 1470,1485 1492,1512 L1527,1598" stroke="#fff" stroke-width="5" fill="none" stroke-linejoin="round" stroke-linecap="round" />
<path d="M1616.4,1151.8 L1930,1308.6" stroke="#ff0000" stroke-width="6.5" stroke-linecap="round" stroke-dasharray="88.3 12.6 21.8 12.6 21.8 12.6" stroke-dashoffset="38.8" fill="none"/><path d="M2001,1344.1 L2523.7,1604.4" stroke="#ff0000" stroke-width="6.5" stroke-linecap="round" stroke-dasharray="88.3 12.6 21.8 12.6 21.8 12.6" fill="none"/><line x1="1434" y1="1057" x2="1447" y2="1064" stroke="#f00" stroke-width="4" stroke-linecap="round"/><line x1="1541" y1="1108" x2="1548" y2="1112" stroke="#f00" stroke-width="4" stroke-linecap="round"/>
<path d="M2080,1327 C2150,1325 2215,1318 2228,1296 C2240,1278 2220,1258 2200,1243 L2070,1150 C2020,1115 2005,1095 2018,1080 C2030,1062 2060,1060 2080,1062 C2150,1068 2215,1105 2235,1150 C2252,1185 2256,1215 2256,1245" fill="none" stroke="#fff" stroke-width="31" stroke-linecap="butt"/><path d="M2080,1327 C2150,1325 2215,1318 2228,1296 C2240,1278 2220,1258 2200,1243 L2070,1150 C2020,1115 2005,1095 2018,1080 C2030,1062 2060,1060 2080,1062 C2150,1068 2215,1105 2235,1150 C2252,1185 2256,1215 2256,1245" fill="none" stroke="#bd7a30" stroke-width="21" stroke-linecap="butt"/><rect x="1914.5" y="1294.5" width="57.0" height="66.0" rx="6" stroke="#fff" stroke-width="5" fill="#fff"/><rect x="1932.0" y="1301.6" width="26.0" height="4.0" fill="#bd7a30"/><rect x="1932.0" y="1314.0" width="26.0" height="4.0" fill="#bd7a30"/><rect x="1932.0" y="1325.0" width="26.0" height="4.0" fill="#bd7a30"/><rect x="1932.0" y="1336.0" width="26.0" height="4.0" fill="#bd7a30"/><rect x="1932.0" y="1348.4" width="26.0" height="4.0" fill="#bd7a30"/><rect x="1917.0" y="1314.6" width="5.0" height="29.4" fill="#bd7a30"/><rect x="1965.0" y="1306.0" width="4.0" height="50.0" fill="#bd7a30"/><rect x="1974" y="1301" width="64" height="52" fill="#bd7a30" stroke="#fff" stroke-width="5"/><rect x="2011.0" y="1303.0" width="4.0" height="48.0" fill="#fff"/><rect x="2040.0" y="1299.5" width="46.0" height="55.0" rx="6" stroke="#fff" stroke-width="5" fill="#fff"/><rect x="2072.5" y="1308.0" width="5.0" height="40.0" fill="#bd7a30"/><rect x="2053.0" y="1307.0" width="24.0" height="4.0" fill="#bd7a30"/><rect x="2053.0" y="1332.0" width="24.0" height="4.0" fill="#bd7a30"/><rect x="2232.0" y="1241.5" width="50.0" height="46.0" rx="6" stroke="#fff" stroke-width="5" fill="#fff"/><rect x="2234.8" y="1244.5" width="42.0" height="7.0" fill="#bd7a30"/><rect x="2255.0" y="1250.0" width="6.0" height="24.0" fill="#bd7a30"/><rect x="2238" y="1288" width="40" height="60" fill="#bd7a30" stroke="#fff" stroke-width="5"/><line x1="2238.0" y1="1316.0" x2="2278.0" y2="1316.0" stroke="#fff" stroke-width="4" stroke-linecap="round"/><rect x="2220.0" y="1350.0" width="68.0" height="63.0" rx="6" stroke="#fff" stroke-width="5" fill="#fff"/><rect x="2230.0" y="1358.5" width="48.0" height="4.0" fill="#bd7a30"/><rect x="2231.0" y="1369.0" width="3.0" height="31.0" fill="#bd7a30"/><rect x="2243.0" y="1369.0" width="3.0" height="31.0" fill="#bd7a30"/><rect x="2254.0" y="1369.0" width="5.0" height="31.0" fill="#bd7a30"/><rect x="2265.0" y="1369.0" width="3.0" height="31.0" fill="#bd7a30"/><rect x="2276.0" y="1369.0" width="3.0" height="31.0" fill="#bd7a30"/><rect x="2240.0" y="1405.0" width="30.0" height="4.0" fill="#bd7a30"/>
<path d="M2121,1601.3 L2238,1601.3 Q2243,1602 2244,1610 Q2246,1623.6 2256,1623.6 L2302,1623.6 Q2313,1623.6 2315,1612 Q2316,1601.3 2322,1601.3 L2459,1601.3 Q2464,1602 2465,1610 Q2467,1623 2477,1623 L2524,1623 Q2535,1623 2537,1612 Q2538,1601.3 2544,1601.3 L2601,1601.3 L2627,1630 Q2636,1638 2642,1630 Q2645,1625 2645,1605 L2645,1601.3 L2706.3,1601.3 L2706.3,1704.5 A126,132 0 0 1 2580.8,1836.9 L2580.8,1846.6 L2185,1846.6 L2185,1832.7 L2121,1832.7 L2121,1817 L2138,1817 Q2148,1815 2148,1803 Q2148,1791 2138,1789 L2121,1789 L2121,1781 L2146,1781 Q2153,1779 2153,1771 L2153,1662 Q2153,1653 2146,1652 L2121,1652 L2121,1643 L2138,1643 Q2148,1641 2148,1629 Q2148,1617 2138,1615 L2121,1615 Z" fill="#2f71c1" stroke="#fff" stroke-width="5" stroke-linejoin="round"/><path d="M2699,1608 L2699,1704.5 A119,125 0 0 1 2583,1830" stroke="#fff" stroke-width="2" fill="none" stroke-linejoin="round" stroke-linecap="round" /><rect x="2486.0" y="1590.0" width="72.0" height="12.0" fill="#fff"/><rect x="2491.0" y="1565.0" width="64.0" height="27.0" rx="0" stroke="#fff" stroke-width="5" fill="#2f71c1"/><rect x="2504.0" y="1568.0" width="3.0" height="22.0" fill="#fff"/><rect x="2535.0" y="1568.0" width="3.0" height="22.0" fill="#fff"/><circle cx="2521.0" cy="1574.0" r="5.0" fill="#fff"/><line x1="2493.0" y1="1582.0" x2="2553.0" y2="1582.0" stroke="#fff" stroke-width="3" stroke-linecap="round"/><circle cx="2677.0" cy="1692.0" r="16.2" stroke="#fff" stroke-width="5" fill="none"/><circle cx="2677.0" cy="1692.0" r="9.3" stroke="#fff" stroke-width="5" fill="none"/><circle cx="2677.0" cy="1692.0" r="2.5" fill="#fff"/><circle cx="2600.9" cy="1798.7" r="17.5" stroke="#fff" stroke-width="5" fill="none"/><circle cx="2600.9" cy="1798.7" r="10.0" stroke="#fff" stroke-width="5" fill="none"/><circle cx="2600.9" cy="1798.7" r="2.5" fill="#fff"/><path d="M2210,1848 Q2212,1858 2220,1861 L2235,1861 Q2243,1858 2245,1848" stroke="#fff" stroke-width="4.5" fill="none" stroke-linejoin="round" stroke-linecap="round" /><path d="M2531,1848 Q2533,1858 2541,1861 L2556,1861 Q2564,1858 2566,1848" stroke="#fff" stroke-width="4.5" fill="none" stroke-linejoin="round" stroke-linecap="round" /><g transform="translate(2390.9,1757.3) rotate(0)"><path d="M-77.5,-27 L-68.2,-27 L-68.2,0 Q-67.9,13 -45.4,18.2 L-45.4,27.4 Q-77.5,27.7 -77.5,0 Z" stroke="#fff" stroke-width="4.7" fill="none" stroke-linejoin="round" stroke-linecap="round" /><path d="M6.4,19.3 A27.3,27.3 0 1 1 14.4,-0.0" stroke="#fff" stroke-width="5" fill="none" stroke-linejoin="round" stroke-linecap="round" /><path d="M0.3,13.2 A18.7,18.7 0 1 1 5.8,-0.0" stroke="#fff" stroke-width="5" fill="none" stroke-linejoin="round" stroke-linecap="round" /><line x1="-28.9" y1="-4.7" x2="6.1" y2="-4.7" stroke="#fff" stroke-width="4.7" stroke-linecap="round"/><line x1="-40.4" y1="4.7" x2="17.1" y2="4.7" stroke="#fff" stroke-width="4.7" stroke-linecap="round"/><circle cx="49.4" cy="0.0" r="28.0" stroke="#fff" stroke-width="5" fill="none"/><circle cx="49.4" cy="0.0" r="18.3" stroke="#fff" stroke-width="5" fill="none"/><line x1="19.4" y1="4.7" x2="30.4" y2="4.7" stroke="#fff" stroke-width="3" stroke-linecap="round"/><line x1="68.4" y1="4.7" x2="79.4" y2="4.7" stroke="#fff" stroke-width="3" stroke-linecap="round"/><text x="0" y="55.7" fill="#fff" font-family="Liberation Sans, sans-serif" font-weight="bold" font-size="28" stroke="#fff" stroke-width="1.6" stroke-linejoin="round" text-anchor="middle" letter-spacing="0.5">ROVER</text></g>
</svg>
</body></html>
